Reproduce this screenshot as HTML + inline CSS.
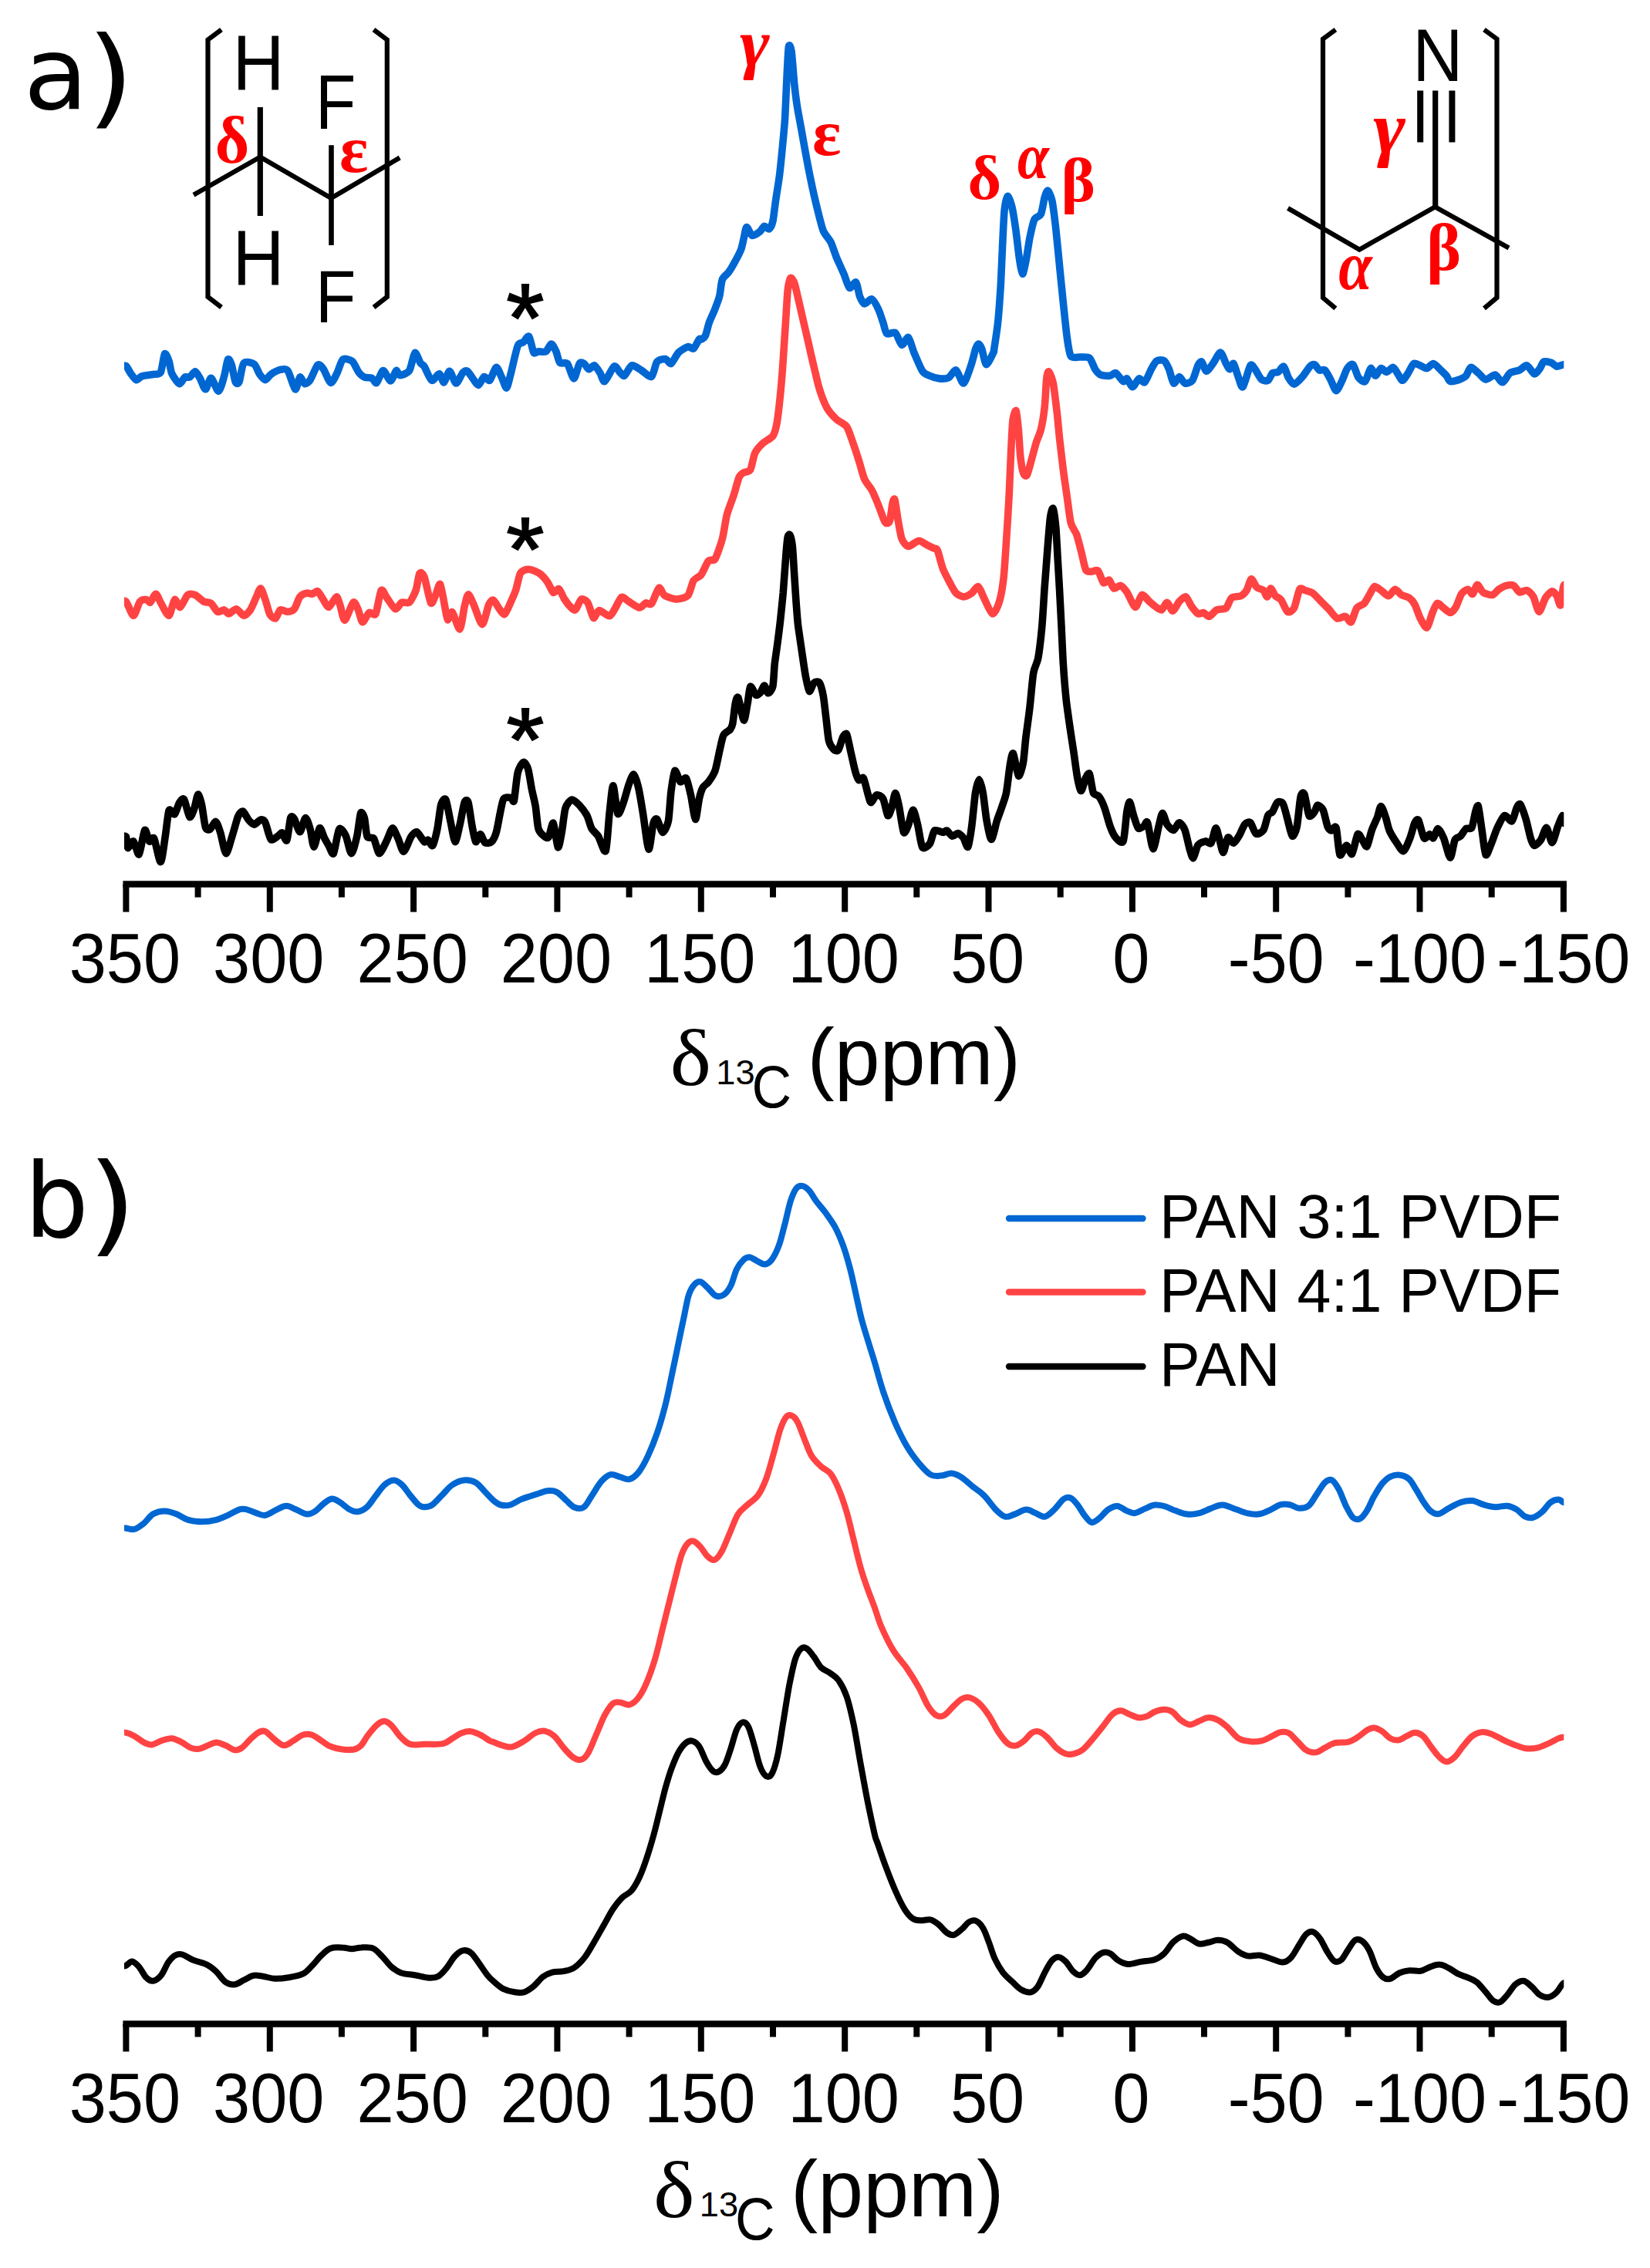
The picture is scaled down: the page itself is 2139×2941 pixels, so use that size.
<!DOCTYPE html>
<html><head><meta charset="utf-8"><title>13C NMR spectra</title>
<style>html,body{margin:0;padding:0;background:#fff}body{width:2139px;height:2941px;overflow:hidden}svg{display:block}
.sans{font-family:"Liberation Sans",Arial,Helvetica,sans-serif}.serif{font-family:"Liberation Serif","Times New Roman",serif}.dj{font-family:"DejaVu Sans",Verdana,sans-serif}.gr{font-family:"Liberation Serif","Times New Roman",serif;font-weight:bold;fill:#ff0000}
</style></head><body>
<svg width="2139" height="2941" viewBox="0 0 2139 2941">
<rect width="2139" height="2941" fill="#fff"/>
<defs><clipPath id="plotclip"><rect x="161" y="0" width="1866.3" height="2941"/></clipPath></defs>
<g clip-path="url(#plotclip)">
<path d="M155.3,1084.8 C156.3,1084.8 162.0,1083.0 163.3,1084.8 C164.6,1086.7 164.5,1098.6 165.8,1099.4 C167.0,1100.2 171.2,1089.8 173.0,1090.9 C174.8,1092.0 178.5,1109.7 180.3,1107.9 C182.1,1106.1 185.9,1078.5 187.6,1076.4 C189.2,1074.2 192.1,1089.5 193.6,1090.9 C195.2,1092.3 197.9,1083.9 199.7,1087.3 C201.5,1090.6 206.4,1117.9 208.2,1117.6 C210.0,1117.3 212.9,1093.2 214.2,1084.8 C215.6,1076.5 217.6,1054.5 219.1,1050.9 C220.6,1047.3 224.7,1057.0 226.4,1055.8 C228.0,1054.5 230.9,1043.6 232.4,1041.2 C233.9,1038.8 236.8,1034.1 238.5,1036.4 C240.2,1038.6 244.1,1057.9 245.8,1059.4 C247.4,1060.9 250.5,1052.1 251.8,1048.5 C253.2,1044.8 255.5,1030.9 256.7,1030.3 C257.9,1029.7 260.3,1038.3 261.5,1043.6 C262.7,1048.9 265.0,1068.8 266.4,1072.7 C267.7,1076.7 270.8,1076.1 272.4,1075.2 C274.1,1074.2 278.0,1064.8 279.7,1065.5 C281.4,1066.1 284.1,1074.8 285.8,1080.0 C287.4,1085.2 291.1,1106.4 293.0,1106.7 C295.0,1107.0 299.5,1088.5 301.5,1082.4 C303.5,1076.4 307.1,1062.0 308.8,1058.2 C310.5,1054.4 313.2,1051.5 314.8,1052.1 C316.5,1052.7 320.3,1060.9 322.1,1063.0 C323.9,1065.2 327.4,1069.1 329.4,1069.1 C331.4,1069.1 336.1,1063.3 337.9,1063.0 C339.7,1062.7 342.3,1063.5 343.9,1066.7 C345.6,1069.8 349.1,1086.4 351.2,1088.5 C353.3,1090.6 359.1,1084.7 360.9,1083.6 C362.7,1082.6 364.4,1079.2 365.8,1080.0 C367.1,1080.8 370.5,1092.1 371.8,1089.7 C373.2,1087.3 375.5,1064.1 376.7,1060.6 C377.9,1057.1 380.0,1059.5 381.5,1061.8 C383.0,1064.1 387.0,1078.9 388.8,1078.8 C390.6,1078.6 394.4,1061.1 396.1,1060.6 C397.7,1060.2 400.8,1070.5 402.1,1075.2 C403.5,1079.8 405.5,1098.3 407.0,1098.2 C408.5,1098.0 412.6,1075.5 414.2,1073.9 C415.9,1072.4 418.8,1083.2 420.3,1086.1 C421.8,1088.9 424.8,1094.4 426.4,1097.0 C427.9,1099.5 430.8,1109.4 432.4,1106.7 C434.1,1103.9 437.7,1078.0 439.7,1075.2 C441.7,1072.3 446.2,1079.7 448.2,1083.6 C450.2,1087.6 453.6,1106.5 455.5,1106.7 C457.3,1106.8 461.2,1091.4 462.7,1084.8 C464.2,1078.3 466.4,1057.6 467.6,1054.5 C468.8,1051.5 471.4,1056.8 472.4,1060.6 C473.5,1064.4 474.5,1081.5 476.1,1084.8 C477.6,1088.2 482.6,1084.5 484.5,1087.3 C486.5,1090.0 489.7,1106.4 491.8,1106.7 C493.9,1107.0 499.4,1093.8 501.5,1089.7 C503.6,1085.6 507.0,1074.2 508.8,1073.9 C510.6,1073.6 514.2,1083.5 516.1,1087.3 C517.9,1091.1 521.2,1104.5 523.3,1104.2 C525.5,1103.9 530.9,1088.0 533.0,1084.8 C535.2,1081.7 538.2,1078.0 540.3,1078.8 C542.4,1079.6 548.2,1090.2 550.0,1091.5 C551.8,1092.8 553.5,1088.5 554.8,1089.1 C556.2,1089.7 559.4,1098.2 560.9,1096.4 C562.4,1094.5 565.6,1081.2 567.0,1074.5 C568.3,1067.9 570.5,1047.7 571.8,1043.0 C573.2,1038.3 576.4,1034.2 577.9,1037.0 C579.4,1039.7 582.4,1058.0 583.9,1064.8 C585.5,1071.7 588.5,1090.9 590.0,1091.5 C591.5,1092.1 594.5,1076.1 596.1,1069.7 C597.6,1063.3 600.8,1044.2 602.1,1040.6 C603.5,1037.0 605.8,1037.0 607.0,1040.6 C608.2,1044.2 610.6,1063.3 611.8,1069.7 C613.0,1076.1 615.3,1090.0 616.7,1091.5 C618.0,1093.0 621.2,1081.7 622.7,1081.8 C624.2,1082.0 627.0,1091.5 628.8,1092.7 C630.6,1093.9 635.5,1093.2 637.3,1091.5 C639.1,1089.8 642.0,1083.9 643.3,1079.4 C644.7,1074.8 647.0,1060.6 648.2,1055.2 C649.4,1049.7 651.2,1038.3 653.0,1035.8 C654.8,1033.2 661.1,1034.2 662.7,1034.5 C664.4,1034.8 665.3,1042.3 666.4,1038.2 C667.4,1034.1 669.7,1008.0 671.2,1001.8 C672.7,995.6 676.8,989.1 678.5,988.5 C680.2,987.9 683.2,992.6 684.5,997.0 C685.9,1001.4 688.2,1017.6 689.4,1023.6 C690.6,1029.7 693.2,1039.1 694.2,1045.5 C695.3,1051.8 696.5,1069.7 697.9,1074.5 C699.2,1079.4 703.5,1082.9 705.2,1084.2 C706.8,1085.6 709.7,1087.6 711.2,1085.5 C712.7,1083.3 715.8,1065.6 717.3,1067.3 C718.8,1068.9 722.0,1097.3 723.3,1098.8 C724.7,1100.3 727.0,1085.8 728.2,1079.4 C729.4,1073.0 731.4,1053.2 733.0,1047.9 C734.7,1042.6 739.2,1037.4 741.5,1037.0 C743.8,1036.5 748.8,1041.7 751.2,1044.2 C753.6,1046.8 758.9,1053.8 760.9,1057.6 C762.9,1061.4 765.2,1071.2 767.0,1074.5 C768.8,1077.9 773.2,1080.6 775.5,1084.2 C777.7,1087.9 783.3,1107.3 785.2,1103.6 C787.0,1100.0 788.8,1065.8 790.0,1055.2 C791.2,1044.5 793.5,1018.8 794.8,1018.8 C796.2,1018.8 799.2,1052.4 800.9,1055.2 C802.6,1057.9 806.4,1045.5 808.2,1040.6 C810.0,1035.8 813.8,1020.9 815.5,1016.4 C817.1,1011.8 820.0,1003.6 821.5,1004.2 C823.0,1004.8 826.1,1014.8 827.6,1021.2 C829.1,1027.6 832.0,1045.2 833.6,1055.2 C835.3,1065.2 839.2,1099.7 840.9,1101.2 C842.6,1102.7 845.6,1072.1 847.0,1067.3 C848.3,1062.4 850.3,1060.9 851.8,1062.4 C853.3,1063.9 857.3,1079.1 859.1,1079.4 C860.9,1079.7 865.0,1071.5 866.4,1064.8 C867.7,1058.2 868.9,1034.2 870.0,1026.1 C871.1,1017.9 873.3,1000.9 874.8,999.4 C876.4,997.9 880.3,1012.7 882.1,1013.9 C883.9,1015.2 887.7,1007.0 889.4,1009.1 C891.1,1011.2 893.9,1024.2 895.5,1030.9 C897.0,1037.6 900.2,1061.8 901.5,1062.4 C902.9,1063.0 905.2,1040.9 906.4,1035.8 C907.6,1030.6 909.7,1023.9 911.2,1021.2 C912.7,1018.5 916.5,1016.7 918.5,1013.9 C920.5,1011.2 925.2,1004.5 927.0,999.4 C928.8,994.2 931.7,978.5 933.0,972.7 C934.4,967.0 936.2,956.7 937.9,953.3 C939.5,950.0 944.9,947.9 946.4,946.1 C947.8,944.2 948.8,943.0 949.7,938.8 C950.6,934.5 952.4,916.4 953.3,912.1 C954.2,907.9 955.6,902.1 957.0,904.8 C958.3,907.6 962.7,933.0 964.2,933.9 C965.8,934.8 968.0,917.6 969.1,912.1 C970.2,906.7 971.4,891.7 972.7,890.3 C974.1,888.9 978.3,900.3 980.0,901.2 C981.7,902.1 984.7,899.1 986.1,897.6 C987.4,896.1 989.7,888.9 990.9,889.1 C992.1,889.2 994.4,898.6 995.8,898.8 C997.1,898.9 1000.8,895.0 1001.8,890.3 C1002.9,885.6 1003.5,868.2 1004.2,861.2 C1005.0,854.2 1007.0,841.5 1007.9,834.5 C1008.8,827.6 1010.6,813.6 1011.5,805.5 C1012.4,797.3 1014.2,779.7 1015.2,769.1 C1016.1,758.5 1018.0,729.7 1018.8,720.6 C1019.5,711.5 1020.5,699.7 1021.2,696.4 C1021.9,693.0 1023.4,692.4 1024.1,693.9 C1024.9,695.5 1026.6,702.1 1027.3,708.5 C1028.0,714.8 1029.1,735.8 1029.7,744.8 C1030.3,753.9 1031.5,773.0 1032.1,781.2 C1032.7,789.4 1033.6,802.4 1034.5,810.3 C1035.5,818.2 1038.2,836.1 1039.4,844.2 C1040.6,852.4 1043.0,869.2 1044.2,875.8 C1045.5,882.3 1047.7,895.2 1049.1,896.4 C1050.5,897.6 1053.5,886.8 1055.2,885.5 C1056.8,884.1 1060.9,883.3 1062.4,885.5 C1063.9,887.6 1066.2,896.7 1067.3,902.4 C1068.3,908.2 1070.0,924.2 1070.9,931.5 C1071.8,938.8 1073.3,955.6 1074.5,960.6 C1075.8,965.6 1079.1,970.0 1080.6,971.5 C1082.1,973.0 1085.2,974.7 1086.7,972.7 C1088.2,970.8 1091.4,958.3 1092.7,955.8 C1094.1,953.2 1096.4,950.0 1097.6,952.1 C1098.8,954.2 1101.1,966.8 1102.4,972.7 C1103.8,978.6 1107.1,994.5 1108.5,999.4 C1109.8,1004.2 1112.0,1010.3 1113.3,1011.5 C1114.7,1012.7 1117.9,1006.7 1119.4,1009.1 C1120.9,1011.5 1124.2,1027.0 1125.5,1030.9 C1126.7,1034.8 1127.7,1040.6 1129.1,1040.6 C1130.5,1040.6 1134.4,1031.5 1136.4,1030.9 C1138.3,1030.3 1143.0,1032.4 1144.8,1035.8 C1146.7,1039.1 1149.5,1056.1 1150.9,1057.6 C1152.3,1059.1 1154.5,1051.5 1155.8,1047.9 C1157.0,1044.2 1159.4,1028.8 1160.6,1028.5 C1161.8,1028.2 1164.1,1039.1 1165.5,1045.5 C1166.8,1051.8 1170.0,1076.4 1171.5,1079.4 C1173.0,1082.4 1176.1,1073.3 1177.6,1069.7 C1179.1,1066.1 1182.1,1050.3 1183.6,1050.3 C1185.2,1050.3 1188.2,1063.6 1189.7,1069.7 C1191.2,1075.8 1193.8,1095.8 1195.8,1098.8 C1197.7,1101.8 1203.5,1096.7 1205.5,1093.9 C1207.4,1091.2 1209.4,1078.8 1211.5,1077.0 C1213.6,1075.2 1220.5,1079.4 1222.4,1079.4 C1224.4,1079.4 1225.8,1076.4 1227.3,1077.0 C1228.8,1077.6 1232.7,1083.8 1234.5,1084.2 C1236.4,1084.7 1240.0,1080.3 1241.8,1080.6 C1243.6,1080.9 1247.5,1084.5 1249.1,1086.7 C1250.7,1088.9 1253.5,1100.1 1254.8,1098.2 C1256.2,1096.3 1258.5,1080.3 1259.7,1071.5 C1260.9,1062.7 1263.3,1035.5 1264.5,1027.9 C1265.8,1020.3 1268.2,1010.9 1269.4,1010.9 C1270.6,1010.9 1273.0,1021.2 1274.2,1027.9 C1275.5,1034.5 1277.7,1056.7 1279.1,1064.2 C1280.5,1071.8 1283.5,1088.5 1285.2,1088.5 C1286.8,1088.5 1290.8,1069.4 1292.4,1064.2 C1294.1,1059.1 1297.0,1051.8 1298.5,1047.3 C1300.0,1042.7 1303.2,1034.8 1304.5,1027.9 C1305.9,1020.9 1308.3,997.9 1309.4,991.5 C1310.5,985.2 1312.2,975.2 1313.5,977.0 C1314.9,978.8 1318.7,1004.5 1320.3,1006.1 C1321.9,1007.6 1325.2,995.5 1326.4,989.1 C1327.6,982.7 1328.9,963.9 1330.0,955.2 C1331.1,946.4 1333.6,929.1 1334.8,918.8 C1336.1,908.5 1338.3,880.9 1339.7,872.7 C1341.1,864.5 1344.4,860.6 1345.8,853.3 C1347.1,846.1 1349.5,826.1 1350.6,814.5 C1351.7,803.0 1353.3,773.9 1354.2,761.2 C1355.2,748.5 1357.0,723.9 1357.9,712.7 C1358.8,701.5 1360.6,678.2 1361.5,671.5 C1362.4,664.8 1364.2,657.9 1365.2,659.4 C1366.1,660.9 1368.0,675.5 1368.8,683.6 C1369.5,691.8 1370.6,714.5 1371.2,724.8 C1371.8,735.2 1373.0,754.8 1373.6,766.1 C1374.2,777.3 1375.5,802.4 1376.1,814.5 C1376.7,826.7 1377.7,851.5 1378.5,863.0 C1379.2,874.5 1381.1,896.7 1382.1,906.7 C1383.2,916.7 1385.8,934.5 1387.0,943.0 C1388.2,951.5 1390.6,966.4 1391.8,974.5 C1393.0,982.7 1395.5,1002.1 1396.7,1008.5 C1397.9,1014.8 1400.2,1025.5 1401.5,1025.5 C1402.9,1025.5 1406.2,1011.2 1407.6,1008.5 C1408.9,1005.8 1411.2,1001.2 1412.4,1003.6 C1413.6,1006.1 1415.8,1024.2 1417.3,1027.9 C1418.8,1031.5 1422.7,1030.3 1424.5,1032.7 C1426.4,1035.2 1430.0,1042.4 1431.8,1047.3 C1433.6,1052.1 1437.3,1066.7 1439.1,1071.5 C1440.9,1076.4 1444.2,1083.6 1446.4,1086.1 C1448.5,1088.5 1454.2,1095.2 1456.1,1090.9 C1457.9,1086.7 1459.8,1058.5 1460.9,1052.1 C1462.0,1045.8 1463.5,1039.4 1464.5,1040.0 C1465.6,1040.6 1468.0,1052.7 1469.4,1057.0 C1470.8,1061.2 1473.8,1072.1 1475.5,1073.9 C1477.1,1075.8 1481.2,1072.4 1482.7,1071.5 C1484.2,1070.6 1486.1,1063.0 1487.6,1066.7 C1489.1,1070.3 1493.0,1100.0 1494.8,1100.6 C1496.7,1101.2 1500.6,1077.3 1502.1,1071.5 C1503.6,1065.8 1505.6,1054.8 1507.0,1054.5 C1508.3,1054.2 1511.2,1066.4 1513.0,1069.1 C1514.8,1071.8 1519.5,1076.7 1521.5,1076.4 C1523.5,1076.1 1527.0,1066.7 1528.8,1066.7 C1530.6,1066.7 1534.4,1072.1 1536.1,1076.4 C1537.7,1080.6 1540.8,1096.1 1542.1,1100.6 C1543.5,1105.2 1545.6,1113.3 1547.0,1112.7 C1548.3,1112.1 1551.1,1098.5 1553.0,1095.8 C1555.0,1093.0 1560.6,1091.2 1562.7,1090.9 C1564.8,1090.6 1568.3,1095.5 1570.0,1093.3 C1571.7,1091.2 1574.7,1074.5 1576.1,1073.9 C1577.4,1073.3 1579.7,1084.5 1580.9,1088.5 C1582.1,1092.4 1584.4,1105.8 1585.8,1105.5 C1587.1,1105.2 1590.2,1087.6 1591.8,1086.1 C1593.5,1084.5 1597.3,1093.6 1599.1,1093.3 C1600.9,1093.0 1604.5,1086.7 1606.4,1083.6 C1608.2,1080.6 1611.8,1071.2 1613.6,1069.1 C1615.5,1067.0 1619.1,1065.2 1620.9,1066.7 C1622.7,1068.2 1626.1,1080.0 1628.2,1081.2 C1630.3,1082.4 1635.9,1079.4 1637.9,1076.4 C1639.8,1073.3 1642.5,1059.9 1643.9,1057.0 C1645.4,1054.0 1648.2,1054.8 1649.7,1052.7 C1651.2,1050.7 1654.1,1042.0 1655.8,1040.6 C1657.4,1039.2 1661.4,1039.1 1663.0,1041.8 C1664.7,1044.5 1667.6,1057.1 1669.1,1062.4 C1670.6,1067.7 1673.6,1083.0 1675.2,1084.2 C1676.7,1085.5 1679.8,1078.5 1681.2,1072.1 C1682.6,1065.8 1684.8,1038.6 1686.1,1033.3 C1687.3,1028.0 1689.5,1026.7 1690.9,1029.7 C1692.3,1032.7 1695.3,1054.7 1697.0,1057.6 C1698.6,1060.5 1702.9,1054.4 1704.2,1052.7 C1705.6,1051.1 1706.5,1044.5 1707.9,1044.2 C1709.2,1043.9 1713.5,1046.8 1715.2,1050.3 C1716.8,1053.8 1719.8,1068.8 1721.2,1072.1 C1722.6,1075.5 1724.7,1076.8 1726.1,1077.0 C1727.4,1077.1 1730.8,1069.4 1732.1,1073.3 C1733.5,1077.3 1735.3,1105.6 1737.0,1108.5 C1738.6,1111.4 1743.5,1096.5 1745.5,1096.4 C1747.4,1096.2 1750.9,1109.1 1752.7,1107.3 C1754.5,1105.5 1758.3,1084.1 1760.0,1081.8 C1761.7,1079.5 1764.5,1087.1 1766.1,1089.1 C1767.6,1091.1 1770.6,1099.1 1772.1,1097.6 C1773.6,1096.1 1776.5,1081.7 1778.2,1077.0 C1779.8,1072.3 1783.9,1063.9 1785.5,1060.0 C1787.0,1056.1 1788.9,1045.5 1790.3,1045.5 C1791.7,1045.5 1795.0,1056.1 1796.4,1060.0 C1797.7,1063.9 1799.5,1073.0 1801.2,1077.0 C1802.9,1080.9 1807.4,1088.2 1809.7,1091.5 C1812.0,1094.8 1817.1,1104.2 1819.4,1103.6 C1821.7,1103.0 1826.1,1091.2 1827.9,1086.7 C1829.7,1082.1 1832.6,1070.2 1833.9,1067.3 C1835.3,1064.4 1837.3,1061.2 1838.8,1063.6 C1840.3,1066.1 1844.2,1084.4 1846.1,1086.7 C1847.9,1088.9 1851.8,1081.8 1853.3,1081.8 C1854.8,1081.8 1856.8,1087.6 1858.2,1086.7 C1859.5,1085.8 1862.6,1074.5 1864.2,1074.5 C1865.9,1074.5 1869.5,1082.0 1871.5,1086.7 C1873.5,1091.4 1878.2,1111.8 1880.0,1112.1 C1881.8,1112.4 1884.4,1092.6 1886.1,1089.1 C1887.7,1085.6 1891.5,1086.1 1893.3,1084.2 C1895.2,1082.4 1898.8,1075.9 1900.6,1074.5 C1902.4,1073.2 1906.4,1076.1 1907.9,1073.3 C1909.4,1070.6 1911.7,1056.2 1912.7,1052.7 C1913.8,1049.2 1915.3,1042.4 1916.4,1045.5 C1917.4,1048.5 1920.0,1069.1 1921.2,1077.0 C1922.4,1084.8 1924.5,1106.4 1926.1,1108.5 C1927.6,1110.6 1931.5,1098.2 1933.3,1093.9 C1935.2,1089.7 1938.5,1079.1 1940.6,1074.5 C1942.7,1070.0 1947.9,1058.8 1950.3,1057.6 C1952.7,1056.4 1958.0,1066.1 1960.0,1064.8 C1962.0,1063.6 1964.7,1050.6 1966.1,1047.9 C1967.4,1045.2 1969.4,1041.2 1970.9,1043.0 C1972.4,1044.8 1976.5,1057.0 1978.2,1062.4 C1979.8,1067.9 1982.9,1082.4 1984.2,1086.7 C1985.6,1090.9 1987.4,1096.1 1989.1,1096.4 C1990.8,1096.7 1995.6,1092.0 1997.6,1089.1 C1999.5,1086.2 2003.0,1072.9 2004.8,1073.3 C2006.7,1073.8 2010.3,1092.9 2012.1,1092.7 C2013.9,1092.6 2017.7,1076.5 2019.4,1072.1 C2021.1,1067.7 2024.5,1058.2 2025.5,1057.6 C2026.4,1057.0 2025.9,1066.1 2027.2,1067.3 C2028.4,1068.5 2034.2,1067.3 2035.2,1067.3" fill="none" stroke="#000" stroke-width="9.6" stroke-linejoin="round" stroke-linecap="butt"/>
<path d="M155.3,780.0 C156.3,780.0 161.1,777.7 163.3,780.0 C165.5,782.3 170.8,798.2 173.0,798.2 C175.3,798.2 179.4,782.6 181.5,780.0 C183.6,777.4 188.3,777.4 190.0,777.6 C191.7,777.7 193.3,782.1 194.8,781.2 C196.4,780.3 200.3,770.0 202.1,770.3 C203.9,770.6 207.3,780.2 209.4,783.6 C211.5,787.1 217.0,798.9 219.1,798.2 C221.2,797.4 224.5,778.9 226.4,777.6 C228.2,776.2 231.5,788.0 233.6,787.3 C235.8,786.5 240.9,773.5 243.3,771.5 C245.8,769.5 250.5,770.5 253.0,771.5 C255.6,772.6 261.4,778.6 263.9,780.0 C266.5,781.4 271.4,780.8 273.6,782.4 C275.9,784.1 280.0,792.3 282.1,793.3 C284.2,794.4 288.8,790.6 290.6,790.9 C292.4,791.2 294.7,795.9 296.7,795.8 C298.6,795.6 303.9,789.4 306.4,789.7 C308.8,790.0 313.8,798.0 316.1,798.2 C318.3,798.3 322.6,793.8 324.5,790.9 C326.5,788.0 330.2,778.6 331.8,775.2 C333.5,771.7 336.4,762.7 337.9,763.0 C339.4,763.3 342.4,773.3 343.9,777.6 C345.5,781.8 348.3,793.9 350.0,797.0 C351.7,800.0 355.6,802.6 357.3,801.8 C358.9,801.1 361.4,792.0 363.3,790.9 C365.3,789.8 370.8,793.5 373.0,793.3 C375.3,793.2 379.5,792.1 381.5,789.7 C383.5,787.3 386.8,776.5 388.8,773.9 C390.8,771.4 395.3,769.5 397.3,769.1 C399.2,768.6 402.7,770.6 404.5,770.3 C406.4,770.0 410.0,765.8 411.8,766.7 C413.6,767.6 417.3,775.0 419.1,777.6 C420.9,780.2 424.2,787.7 426.4,787.3 C428.5,786.8 434.2,774.2 436.1,773.9 C437.9,773.6 439.5,781.1 440.9,784.8 C442.3,788.6 444.8,804.7 447.0,804.2 C449.1,803.8 455.8,783.0 457.9,781.2 C460.0,779.4 462.4,786.5 463.9,789.7 C465.5,792.9 468.2,806.1 470.0,806.7 C471.8,807.3 476.4,795.9 478.5,794.5 C480.6,793.2 485.0,799.4 487.0,795.8 C488.9,792.1 492.4,768.0 494.2,765.5 C496.1,762.9 499.2,772.1 501.5,775.2 C503.8,778.2 510.0,788.9 512.4,789.7 C514.8,790.5 518.6,782.3 520.9,781.2 C523.2,780.2 528.3,783.2 530.6,781.2 C532.9,779.2 537.4,770.2 539.1,765.5 C540.8,760.8 542.6,745.8 543.9,743.6 C545.3,741.4 548.2,743.1 550.0,747.9 C551.8,752.7 556.7,778.8 558.5,781.8 C560.3,784.8 563.0,775.2 564.5,772.1 C566.1,769.1 569.1,755.8 570.6,757.6 C572.1,759.4 575.5,780.9 576.7,786.7 C577.9,792.4 579.1,802.7 580.3,803.6 C581.5,804.5 584.4,792.4 586.4,793.9 C588.3,795.5 594.1,816.7 596.1,815.8 C598.0,814.8 600.8,792.3 602.1,786.7 C603.5,781.1 605.5,771.2 607.0,770.9 C608.5,770.6 612.0,779.4 614.2,784.2 C616.5,789.1 622.7,809.7 625.2,809.7 C627.6,809.7 631.8,788.2 633.6,784.2 C635.5,780.3 638.0,777.6 639.7,778.2 C641.4,778.8 645.2,786.8 647.0,789.1 C648.8,791.4 652.3,797.6 654.2,796.4 C656.2,795.2 660.9,783.3 662.7,779.4 C664.5,775.5 667.3,769.4 668.8,764.8 C670.3,760.3 672.7,746.4 674.8,743.0 C677.0,739.7 682.6,738.0 685.8,738.2 C688.9,738.3 697.3,742.1 700.3,744.2 C703.3,746.4 707.9,752.1 710.0,755.2 C712.1,758.2 715.5,767.4 717.3,768.5 C719.1,769.5 722.7,762.6 724.5,763.6 C726.4,764.7 729.7,773.8 731.8,777.0 C733.9,780.2 739.7,787.4 741.5,789.1 C743.3,790.8 744.8,791.8 746.4,790.3 C747.9,788.8 751.7,778.0 753.6,777.0 C755.6,775.9 760.2,778.8 762.1,781.8 C764.1,784.8 767.6,800.0 769.4,801.2 C771.2,802.4 774.1,791.8 776.7,791.5 C779.2,791.2 787.4,799.1 790.0,798.8 C792.6,798.5 795.3,792.1 797.3,789.1 C799.2,786.1 803.6,775.8 805.8,774.5 C807.9,773.3 811.4,777.7 814.2,779.4 C817.1,781.1 825.9,787.6 828.8,787.9 C831.7,788.2 835.3,782.4 837.3,781.8 C839.2,781.2 842.4,785.5 844.5,783.0 C846.7,780.6 852.1,763.8 854.2,762.4 C856.4,761.1 858.6,770.3 861.5,772.1 C864.4,773.9 873.5,777.0 877.3,777.0 C881.1,777.0 889.1,775.2 891.8,772.1 C894.5,769.1 897.0,756.1 899.1,752.7 C901.2,749.4 906.4,748.6 908.8,745.5 C911.2,742.3 916.2,729.8 918.5,727.3 C920.8,724.7 924.7,728.4 927.0,724.8 C929.2,721.3 934.4,706.0 936.4,698.8 C938.3,691.6 940.6,674.2 942.4,667.3 C944.2,660.3 948.9,649.1 950.9,643.0 C952.9,637.0 956.5,622.6 958.2,618.8 C959.8,615.0 962.4,613.9 964.2,612.7 C966.1,611.5 970.9,612.3 972.7,609.1 C974.5,605.9 976.8,591.5 978.8,587.3 C980.8,583.0 985.6,577.9 988.5,575.2 C991.4,572.4 999.5,568.5 1001.8,565.5 C1004.1,562.4 1005.6,556.1 1006.7,550.9 C1007.7,545.8 1009.4,532.4 1010.3,524.2 C1011.2,516.1 1013.2,494.8 1013.9,485.5 C1014.7,476.1 1015.8,458.2 1016.4,449.1 C1017.0,440.0 1018.2,421.8 1018.8,412.7 C1019.4,403.6 1020.5,382.9 1021.2,376.4 C1022.0,369.8 1023.8,361.8 1024.8,360.6 C1025.9,359.4 1028.5,363.5 1029.7,366.7 C1030.9,369.8 1033.2,380.3 1034.5,386.1 C1035.9,391.8 1038.9,405.5 1040.6,412.7 C1042.3,420.0 1046.1,436.4 1047.9,444.2 C1049.7,452.1 1053.3,468.2 1055.2,475.8 C1057.0,483.3 1060.3,498.2 1062.4,504.8 C1064.5,511.5 1069.4,524.2 1072.1,529.1 C1074.8,533.9 1081.1,540.6 1084.2,543.6 C1087.4,546.7 1094.8,549.4 1097.6,553.3 C1100.3,557.3 1104.1,569.7 1106.1,575.2 C1108.0,580.6 1111.5,591.2 1113.3,597.0 C1115.2,602.7 1118.5,616.4 1120.6,621.2 C1122.7,626.1 1128.0,631.5 1130.3,635.8 C1132.6,640.0 1136.7,650.0 1138.8,655.2 C1140.9,660.3 1145.5,674.4 1147.3,677.0 C1149.1,679.5 1152.1,678.8 1153.3,675.8 C1154.5,672.7 1156.2,656.2 1157.0,652.7 C1157.8,649.2 1159.0,645.2 1159.9,647.9 C1160.8,650.6 1163.1,668.2 1164.2,674.5 C1165.4,680.9 1167.4,694.5 1169.1,698.8 C1170.8,703.0 1174.8,708.2 1177.6,708.5 C1180.3,708.8 1188.0,701.5 1190.9,701.2 C1193.8,700.9 1198.2,704.8 1200.6,706.1 C1203.0,707.3 1208.5,710.0 1210.3,710.9 C1212.1,711.8 1213.6,710.0 1215.2,713.3 C1216.7,716.7 1220.3,732.1 1222.4,737.6 C1224.5,743.0 1230.0,753.0 1232.1,757.0 C1234.2,760.9 1237.3,767.0 1239.4,769.1 C1241.5,771.2 1246.6,773.9 1249.1,773.9 C1251.6,773.9 1257.3,770.8 1259.7,769.1 C1262.1,767.4 1266.2,759.8 1268.2,760.6 C1270.2,761.4 1273.2,770.8 1275.5,775.2 C1277.7,779.5 1283.9,794.8 1286.4,795.8 C1288.8,796.7 1293.0,788.0 1294.8,782.4 C1296.7,776.8 1299.7,760.9 1300.9,750.9 C1302.1,740.9 1303.6,716.1 1304.5,702.4 C1305.5,688.8 1307.4,656.4 1308.2,641.8 C1308.9,627.3 1310.0,598.2 1310.6,586.1 C1311.2,573.9 1312.2,551.5 1313.0,544.8 C1313.8,538.2 1316.2,531.2 1317.2,532.7 C1318.1,534.2 1319.6,549.7 1320.3,557.0 C1321.0,564.2 1322.0,583.9 1322.7,590.9 C1323.5,597.9 1325.3,609.5 1326.4,612.7 C1327.4,615.9 1329.8,618.5 1331.2,616.4 C1332.6,614.2 1335.8,601.1 1337.3,595.8 C1338.8,590.5 1341.8,578.8 1343.3,573.9 C1344.8,569.1 1348.0,562.7 1349.4,557.0 C1350.8,551.2 1353.3,536.1 1354.2,527.9 C1355.2,519.7 1356.0,497.3 1356.7,491.5 C1357.3,485.8 1358.5,481.2 1359.6,481.8 C1360.6,482.4 1363.8,490.0 1365.2,496.4 C1366.5,502.7 1368.9,523.6 1370.0,532.7 C1371.1,541.8 1372.6,559.4 1373.6,569.1 C1374.7,578.8 1377.3,600.9 1378.5,610.3 C1379.7,619.7 1382.1,635.8 1383.3,644.2 C1384.5,652.7 1386.7,672.1 1388.2,678.2 C1389.7,684.2 1393.8,688.2 1395.5,692.7 C1397.1,697.3 1400.0,708.8 1401.5,714.5 C1403.0,720.3 1405.9,735.5 1407.6,738.8 C1409.2,742.1 1412.9,741.1 1414.8,741.2 C1416.8,741.4 1421.4,738.2 1423.3,740.0 C1425.3,741.8 1428.8,754.2 1430.6,755.8 C1432.4,757.3 1436.2,751.2 1437.9,752.1 C1439.5,753.0 1442.1,762.1 1443.9,763.0 C1445.8,763.9 1450.3,758.8 1452.4,759.4 C1454.5,760.0 1458.5,764.4 1460.9,767.9 C1463.3,771.4 1469.4,786.8 1471.8,787.3 C1474.2,787.7 1478.0,772.4 1480.3,771.5 C1482.6,770.6 1487.9,778.2 1490.0,780.0 C1492.1,781.8 1495.3,784.7 1497.3,786.1 C1499.2,787.4 1503.8,791.5 1505.8,790.9 C1507.7,790.3 1511.2,781.1 1513.0,781.2 C1514.8,781.4 1518.3,792.3 1520.3,792.1 C1522.3,792.0 1526.7,782.3 1528.8,780.0 C1530.9,777.7 1535.3,773.2 1537.3,773.9 C1539.2,774.7 1542.6,783.3 1544.5,786.1 C1546.5,788.8 1551.1,794.7 1553.0,795.8 C1555.0,796.8 1558.5,794.1 1560.3,794.5 C1562.1,795.0 1565.5,799.8 1567.6,799.4 C1569.7,798.9 1574.5,792.3 1577.3,790.9 C1580.0,789.5 1587.0,790.5 1589.4,788.5 C1591.8,786.5 1594.2,777.1 1596.7,775.2 C1599.1,773.2 1606.4,773.9 1608.8,772.7 C1611.2,771.5 1614.4,768.2 1616.1,765.5 C1617.7,762.7 1620.5,751.4 1622.1,750.9 C1623.8,750.5 1627.4,760.0 1629.4,761.8 C1631.4,763.6 1636.2,763.9 1637.9,765.5 C1639.5,767.0 1641.6,774.2 1642.7,773.9 C1643.9,773.6 1645.9,763.2 1647.3,763.0 C1648.6,762.9 1651.7,770.9 1653.3,772.7 C1655.0,774.5 1658.6,775.0 1660.6,777.6 C1662.6,780.2 1667.0,792.0 1669.1,793.3 C1671.2,794.7 1675.6,792.1 1677.6,788.5 C1679.5,784.8 1683.0,767.1 1684.8,764.2 C1686.7,761.4 1690.0,764.8 1692.1,765.5 C1694.2,766.1 1699.2,767.3 1701.8,769.1 C1704.4,770.9 1710.2,777.4 1712.7,780.0 C1715.3,782.6 1719.8,787.0 1722.4,789.7 C1725.0,792.4 1730.6,800.6 1733.3,801.8 C1736.1,803.0 1742.0,798.8 1744.2,799.4 C1746.5,800.0 1749.7,808.0 1751.5,806.7 C1753.3,805.3 1756.7,791.5 1758.8,788.5 C1760.9,785.5 1766.4,784.7 1768.5,782.4 C1770.6,780.2 1774.1,773.0 1775.8,770.3 C1777.4,767.6 1780.0,761.2 1781.8,760.6 C1783.6,760.0 1788.0,763.9 1790.3,765.5 C1792.6,767.0 1797.7,772.9 1800.0,772.7 C1802.3,772.6 1806.4,764.4 1808.5,764.2 C1810.6,764.1 1814.7,770.2 1817.0,771.5 C1819.2,772.9 1824.5,773.6 1826.7,775.2 C1828.8,776.7 1832.1,780.3 1833.9,783.6 C1835.8,787.0 1839.2,798.0 1841.2,801.8 C1843.2,805.6 1847.7,814.8 1849.7,813.9 C1851.7,813.0 1855.3,798.5 1857.0,794.5 C1858.6,790.6 1861.4,783.3 1863.0,782.4 C1864.7,781.5 1868.2,785.8 1870.3,787.3 C1872.4,788.8 1877.9,794.5 1880.0,794.5 C1882.1,794.5 1885.5,790.3 1887.3,787.3 C1889.1,784.2 1892.6,773.2 1894.5,770.3 C1896.5,767.4 1901.2,764.2 1903.0,764.2 C1904.8,764.2 1907.6,771.1 1909.1,770.3 C1910.6,769.5 1913.5,758.5 1915.2,758.2 C1916.8,757.9 1920.0,766.2 1922.4,767.9 C1924.8,769.5 1932.0,772.0 1934.5,771.5 C1937.1,771.1 1940.8,765.8 1943.0,764.2 C1945.3,762.7 1950.3,760.0 1952.7,759.4 C1955.2,758.8 1960.3,758.3 1962.4,759.4 C1964.5,760.5 1967.6,767.1 1969.7,767.9 C1971.8,768.6 1977.1,764.7 1979.4,765.5 C1981.7,766.2 1985.9,770.5 1987.9,773.9 C1989.8,777.4 1993.2,793.2 1995.2,793.3 C1997.1,793.5 2001.5,778.5 2003.6,775.2 C2005.8,771.8 2010.3,767.0 2012.1,766.7 C2013.9,766.4 2016.8,770.5 2018.2,772.7 C2019.5,775.0 2021.9,786.5 2023.0,784.8 C2024.2,783.2 2025.6,762.6 2027.2,759.4 C2028.7,756.2 2034.2,759.4 2035.2,759.4" fill="none" stroke="#ff4343" stroke-width="9.6" stroke-linejoin="round" stroke-linecap="butt"/>
<path d="M155.3,474.5 C156.3,474.5 161.6,473.3 163.3,474.5 C165.1,475.8 167.7,482.0 169.4,484.2 C171.1,486.5 174.8,492.3 176.7,492.7 C178.5,493.2 181.2,488.8 183.9,487.9 C186.7,487.0 195.5,486.1 198.5,485.5 C201.5,484.8 206.3,486.4 208.2,483.0 C210.1,479.7 212.2,460.6 213.5,458.8 C214.9,457.0 217.9,465.3 219.1,468.5 C220.2,471.7 221.1,480.6 222.7,484.2 C224.4,487.9 230.3,497.0 232.4,497.6 C234.5,498.2 238.0,490.2 239.7,489.1 C241.4,488.0 244.1,490.0 245.8,489.1 C247.4,488.2 251.4,481.7 253.0,481.8 C254.7,482.0 257.4,487.4 259.1,490.3 C260.8,493.2 264.5,504.8 266.4,504.8 C268.2,504.8 271.5,490.0 273.6,490.3 C275.8,490.6 281.2,507.6 283.3,507.3 C285.5,507.0 289.1,493.0 290.6,487.9 C292.1,482.7 294.2,467.9 295.5,466.1 C296.7,464.2 299.1,469.7 300.3,473.3 C301.5,477.0 303.9,492.4 305.2,495.2 C306.4,497.9 308.6,498.2 310.0,495.2 C311.4,492.1 313.6,473.8 316.1,470.9 C318.5,468.0 326.8,470.3 329.4,472.1 C332.0,473.9 334.8,482.9 336.7,485.5 C338.5,488.0 342.1,492.7 343.9,492.7 C345.8,492.7 348.8,487.1 351.2,485.5 C353.6,483.8 360.6,480.0 363.3,479.4 C366.1,478.8 370.6,477.4 373.0,480.6 C375.5,483.8 380.8,503.8 382.7,504.8 C384.7,505.9 387.3,490.0 388.8,489.1 C390.3,488.2 393.2,497.1 394.8,497.6 C396.5,498.0 400.0,495.8 402.1,492.7 C404.2,489.7 409.7,475.2 411.8,473.3 C413.9,471.5 417.0,475.3 419.1,478.2 C421.2,481.1 426.5,495.8 428.8,496.4 C431.1,497.0 435.3,486.8 437.3,483.0 C439.2,479.2 442.1,467.9 444.5,466.1 C447.0,464.2 454.1,466.4 456.7,468.5 C459.2,470.6 463.2,480.5 465.2,483.0 C467.1,485.6 470.3,488.2 472.4,489.1 C474.5,490.0 480.2,489.4 482.1,490.3 C484.1,491.2 486.4,497.6 488.2,496.4 C490.0,495.2 494.4,480.9 496.7,480.6 C498.9,480.3 504.2,493.9 506.4,493.9 C508.5,493.9 512.1,481.5 513.6,480.6 C515.2,479.7 516.4,486.7 518.5,486.7 C520.6,486.7 528.2,484.2 530.6,480.6 C533.0,477.0 536.1,458.8 537.9,457.6 C539.7,456.4 543.6,468.7 545.2,470.9 C546.7,473.1 548.2,472.3 550.0,475.2 C551.8,478.0 557.3,492.1 559.7,493.3 C562.1,494.5 567.4,484.5 569.4,484.8 C571.4,485.2 573.8,496.2 575.5,495.8 C577.1,495.3 580.8,481.1 582.7,481.2 C584.7,481.4 589.1,496.7 591.2,497.0 C593.3,497.3 597.9,485.6 599.7,483.6 C601.5,481.7 604.1,480.3 605.8,481.2 C607.4,482.1 611.2,488.6 613.0,490.9 C614.8,493.2 618.5,499.7 620.3,499.4 C622.1,499.1 625.8,489.2 627.6,488.5 C629.4,487.7 632.9,494.8 634.8,493.3 C636.8,491.8 641.4,476.8 643.3,476.4 C645.3,475.9 648.9,486.4 650.6,489.7 C652.3,493.0 655.2,503.9 656.7,503.0 C658.2,502.1 660.9,489.2 662.7,482.4 C664.5,475.6 669.2,453.3 671.2,448.5 C673.2,443.6 676.7,445.2 678.5,443.6 C680.3,442.1 684.1,434.7 685.8,436.4 C687.4,438.0 690.3,454.5 691.8,457.0 C693.3,459.4 695.9,455.9 697.9,455.8 C699.8,455.6 705.5,457.0 707.6,455.8 C709.7,454.5 713.2,446.1 714.8,446.1 C716.5,446.1 719.5,452.7 720.9,455.8 C722.3,458.8 723.9,468.3 725.8,470.3 C727.6,472.3 733.2,468.9 735.5,471.5 C737.7,474.1 742.0,490.9 743.9,490.9 C745.9,490.9 749.5,473.9 751.2,471.5 C752.9,469.1 755.8,470.6 757.3,471.5 C758.8,472.4 761.7,478.5 763.3,478.8 C765.0,479.1 768.8,473.3 770.6,473.9 C772.4,474.5 776.2,481.1 777.9,483.6 C779.5,486.2 781.7,495.6 783.9,494.5 C786.2,493.5 793.6,476.7 796.1,475.2 C798.5,473.6 801.7,480.9 803.3,482.4 C805.0,483.9 807.4,488.3 809.4,487.3 C811.4,486.2 816.4,474.8 819.1,473.9 C821.8,473.0 828.0,478.2 831.2,480.0 C834.4,481.8 842.0,489.8 844.5,488.5 C847.1,487.1 849.5,472.0 851.8,469.1 C854.1,466.2 860.5,465.2 862.7,465.5 C865.0,465.8 867.9,472.6 870.0,471.5 C872.1,470.5 877.0,459.7 879.7,457.0 C882.4,454.2 889.4,450.3 891.8,449.7 C894.2,449.1 897.3,453.3 899.1,452.1 C900.9,450.9 905.0,441.5 906.4,440.0 C907.7,438.5 908.7,440.6 909.7,440.0 C910.7,439.4 913.3,437.9 914.5,435.2 C915.8,432.4 917.9,422.4 919.4,418.2 C920.9,413.9 925.0,405.5 926.7,401.2 C928.3,397.0 931.5,389.1 932.7,384.2 C933.9,379.4 934.8,366.4 936.4,362.4 C937.9,358.5 942.9,355.5 944.8,352.7 C946.8,350.0 950.2,344.2 952.1,340.6 C954.1,337.0 959.1,327.6 960.6,323.6 C962.1,319.7 963.3,312.7 964.2,309.1 C965.2,305.5 966.5,295.0 967.9,294.5 C969.2,294.1 973.0,304.7 975.2,305.5 C977.3,306.2 982.9,302.1 984.8,300.6 C986.8,299.1 989.4,293.8 990.9,293.3 C992.4,292.9 995.6,297.7 997.0,297.0 C998.3,296.2 1000.8,291.8 1001.8,287.3 C1002.9,282.7 1004.4,267.9 1005.5,260.6 C1006.5,253.3 1009.2,237.3 1010.3,229.1 C1011.4,220.9 1013.0,204.5 1013.9,195.2 C1014.8,185.8 1016.8,165.8 1017.6,153.9 C1018.3,142.1 1019.4,112.3 1020.0,100.6 C1020.6,88.9 1021.7,64.8 1022.4,60.6 C1023.2,56.4 1025.2,60.8 1026.1,66.7 C1027.0,72.6 1028.8,99.1 1029.7,107.9 C1030.6,116.7 1032.1,129.1 1033.3,137.0 C1034.5,144.8 1037.9,162.4 1039.4,170.9 C1040.9,179.4 1043.8,196.1 1045.5,204.8 C1047.1,213.6 1050.9,232.7 1052.7,241.2 C1054.5,249.7 1058.2,265.5 1060.0,272.7 C1061.8,280.0 1065.2,294.2 1067.3,299.4 C1069.4,304.5 1074.8,309.7 1077.0,313.9 C1079.1,318.2 1082.1,328.2 1084.2,333.3 C1086.4,338.5 1091.8,350.2 1093.9,355.2 C1096.1,360.2 1099.2,372.0 1101.2,373.3 C1103.2,374.7 1108.0,364.7 1109.7,366.1 C1111.4,367.4 1113.2,380.8 1114.5,384.2 C1115.9,387.7 1118.6,393.5 1120.6,393.9 C1122.6,394.4 1128.0,387.0 1130.3,387.9 C1132.6,388.8 1137.0,397.4 1138.8,401.2 C1140.6,405.0 1143.5,414.2 1144.8,418.2 C1146.2,422.1 1147.7,431.1 1149.7,432.7 C1151.7,434.4 1158.2,429.7 1160.6,431.5 C1163.0,433.3 1167.0,446.5 1169.1,447.3 C1171.2,448.0 1175.6,436.4 1177.6,437.6 C1179.5,438.8 1182.6,451.5 1184.8,457.0 C1187.1,462.4 1193.2,477.4 1195.8,481.2 C1198.3,485.0 1202.7,486.1 1205.5,487.3 C1208.2,488.5 1214.5,490.6 1217.6,490.9 C1220.6,491.2 1227.0,491.1 1229.7,489.7 C1232.4,488.3 1237.0,479.1 1239.4,480.0 C1241.8,480.9 1246.7,497.7 1249.1,497.0 C1251.5,496.2 1256.8,479.5 1258.8,473.9 C1260.8,468.3 1263.6,455.6 1264.8,452.1 C1266.1,448.6 1267.5,446.1 1268.5,446.1 C1269.5,446.1 1271.3,448.8 1272.6,452.1 C1273.9,455.5 1276.8,472.1 1278.7,472.7 C1280.6,473.3 1286.6,459.5 1287.9,457.0 C1289.1,454.4 1288.1,457.0 1288.8,452.1 C1289.5,447.3 1292.6,428.5 1293.6,418.2 C1294.7,407.9 1296.5,382.4 1297.3,369.7 C1298.0,357.0 1299.1,328.5 1299.7,316.4 C1300.3,304.2 1301.3,280.5 1302.1,272.7 C1302.9,265.0 1305.0,255.2 1306.2,254.5 C1307.5,253.9 1310.5,262.6 1311.8,267.9 C1313.1,273.2 1315.5,288.5 1316.7,297.0 C1317.9,305.5 1320.4,328.5 1321.5,335.8 C1322.6,343.0 1324.6,354.8 1325.6,355.2 C1326.7,355.5 1328.8,343.9 1330.0,338.2 C1331.2,332.4 1333.5,315.8 1334.8,309.1 C1336.2,302.4 1339.1,288.8 1340.9,284.8 C1342.7,280.9 1347.7,281.2 1349.4,277.6 C1351.1,273.9 1353.1,259.5 1354.2,255.8 C1355.4,252.0 1357.2,246.7 1358.4,247.3 C1359.6,247.9 1362.6,254.4 1363.9,260.6 C1365.2,266.8 1367.6,286.4 1368.8,297.0 C1370.0,307.6 1372.4,333.3 1373.6,345.5 C1374.8,357.6 1377.3,382.4 1378.5,393.9 C1379.7,405.5 1382.1,429.1 1383.3,437.6 C1384.5,446.1 1386.1,458.6 1388.2,461.8 C1390.3,465.0 1397.3,462.7 1400.3,463.0 C1403.3,463.3 1410.0,462.3 1412.4,464.2 C1414.8,466.2 1417.9,476.1 1419.7,478.8 C1421.5,481.5 1424.5,485.0 1427.0,486.1 C1429.4,487.1 1436.7,487.6 1439.1,487.3 C1441.5,487.0 1444.2,482.7 1446.4,483.6 C1448.5,484.5 1454.2,493.6 1456.1,494.5 C1457.9,495.5 1459.4,490.0 1460.9,490.9 C1462.4,491.8 1466.2,501.8 1468.2,501.8 C1470.2,501.8 1474.7,491.7 1476.7,490.9 C1478.6,490.2 1482.0,497.3 1483.9,495.8 C1485.9,494.2 1490.5,482.3 1492.4,478.8 C1494.4,475.3 1497.6,469.2 1499.7,467.9 C1501.8,466.5 1507.4,466.5 1509.4,467.9 C1511.4,469.2 1513.9,475.2 1515.5,478.8 C1517.0,482.4 1519.8,495.8 1521.5,497.0 C1523.2,498.2 1527.0,488.5 1528.8,488.5 C1530.6,488.5 1533.9,496.4 1536.1,497.0 C1538.2,497.6 1543.6,496.2 1545.8,493.3 C1547.9,490.5 1551.5,477.0 1553.0,473.9 C1554.5,470.9 1556.5,468.2 1557.9,469.1 C1559.2,470.0 1562.1,480.9 1563.9,481.2 C1565.8,481.5 1570.2,474.5 1572.4,471.5 C1574.7,468.5 1580.0,457.0 1582.1,457.0 C1584.2,457.0 1587.9,468.8 1589.4,471.5 C1590.9,474.2 1593.0,478.8 1594.2,478.8 C1595.5,478.8 1597.7,470.3 1599.1,471.5 C1600.5,472.7 1603.6,484.7 1605.2,488.5 C1606.7,492.3 1609.2,503.6 1611.2,501.8 C1613.2,500.0 1618.9,476.8 1620.9,473.9 C1622.9,471.1 1625.2,476.5 1627.0,478.8 C1628.8,481.1 1633.3,490.3 1635.5,492.1 C1637.6,493.9 1642.2,494.4 1643.9,493.3 C1645.7,492.3 1648.1,485.0 1649.7,483.6 C1651.3,482.3 1655.2,483.5 1657.0,482.4 C1658.8,481.4 1662.6,474.2 1664.2,475.2 C1665.9,476.1 1668.6,486.8 1670.3,489.7 C1672.0,492.6 1675.3,498.3 1677.6,498.2 C1679.8,498.0 1685.9,491.4 1688.5,488.5 C1691.1,485.6 1696.2,477.1 1698.2,475.2 C1700.2,473.2 1702.7,472.1 1704.2,472.7 C1705.8,473.3 1708.6,479.1 1710.3,480.0 C1712.0,480.9 1715.8,478.5 1717.6,480.0 C1719.4,481.5 1723.0,488.8 1724.8,492.1 C1726.7,495.5 1730.3,506.4 1732.1,506.7 C1733.9,507.0 1737.6,498.2 1739.4,494.5 C1741.2,490.9 1744.8,480.3 1746.7,477.6 C1748.5,474.8 1752.1,471.2 1753.9,472.7 C1755.8,474.2 1759.2,487.0 1761.2,489.7 C1763.2,492.4 1767.7,496.1 1769.7,494.5 C1771.7,493.0 1775.3,478.5 1777.0,477.6 C1778.6,476.7 1781.4,487.3 1783.0,487.3 C1784.7,487.3 1788.5,478.2 1790.3,477.6 C1792.1,477.0 1795.6,482.6 1797.6,482.4 C1799.5,482.3 1804.2,476.1 1806.1,476.4 C1807.9,476.7 1810.6,482.7 1812.1,484.8 C1813.6,487.0 1816.5,493.5 1818.2,493.3 C1819.8,493.2 1823.6,486.4 1825.5,483.6 C1827.3,480.9 1830.8,472.7 1832.7,471.5 C1834.7,470.3 1839.1,473.2 1841.2,473.9 C1843.3,474.7 1847.6,477.9 1849.7,477.6 C1851.8,477.3 1855.9,471.2 1858.2,471.5 C1860.5,471.8 1865.8,478.0 1867.9,480.0 C1870.0,482.0 1873.6,485.5 1875.2,487.3 C1876.7,489.1 1877.9,493.9 1880.0,494.5 C1882.1,495.2 1889.5,493.0 1892.1,492.1 C1894.7,491.2 1898.8,489.2 1900.6,487.3 C1902.4,485.3 1904.7,476.8 1906.7,476.4 C1908.6,475.9 1913.9,481.7 1916.4,483.6 C1918.8,485.6 1923.3,491.8 1926.1,492.1 C1928.8,492.4 1935.5,485.6 1938.2,486.1 C1940.9,486.5 1945.5,496.1 1947.9,495.8 C1950.3,495.5 1954.8,485.6 1957.6,483.6 C1960.3,481.7 1967.0,481.2 1969.7,480.0 C1972.4,478.8 1977.0,473.3 1979.4,473.9 C1981.8,474.5 1987.0,484.4 1989.1,484.8 C1991.2,485.3 1994.8,479.5 1996.4,477.6 C1997.9,475.6 1999.4,470.0 2001.2,469.1 C2003.0,468.2 2008.8,469.5 2010.9,470.3 C2013.0,471.1 2016.2,474.8 2018.2,475.2 C2020.2,475.5 2025.0,473.0 2027.2,472.7 C2029.3,472.4 2034.2,472.7 2035.2,472.7" fill="none" stroke="#0067d2" stroke-width="9.6" stroke-linejoin="round" stroke-linecap="butt"/>
<path d="M154.7,2549.1 C156.1,2549.1 160.0,2550.0 162.7,2549.1 C165.5,2548.2 168.3,2543.4 171.2,2543.6 C174.1,2543.9 177.3,2547.2 180.3,2550.6 C183.3,2554.0 186.4,2561.2 189.4,2564.2 C192.4,2567.3 195.2,2569.3 198.5,2568.8 C201.8,2568.3 205.8,2565.3 209.1,2561.2 C212.4,2557.2 215.2,2548.8 218.2,2544.5 C221.2,2540.3 224.2,2537.1 227.3,2535.5 C230.3,2533.8 232.6,2533.5 236.4,2534.5 C240.2,2535.6 244.7,2539.3 250.0,2541.5 C255.3,2543.7 263.1,2545.1 268.2,2547.6 C273.2,2550.1 276.3,2552.9 280.3,2556.7 C284.3,2560.5 288.4,2567.5 292.4,2570.3 C296.5,2573.1 300.5,2573.8 304.5,2573.3 C308.6,2572.8 312.6,2569.2 316.7,2567.3 C320.7,2565.4 324.7,2562.6 328.8,2561.8 C332.8,2561.1 336.4,2562.1 340.9,2562.7 C345.5,2563.4 350.5,2565.5 356.1,2565.8 C361.6,2566.0 368.2,2565.3 374.2,2564.2 C380.3,2563.2 387.4,2562.2 392.4,2559.7 C397.5,2557.2 400.5,2553.1 404.5,2549.1 C408.6,2545.1 412.6,2539.2 416.7,2535.5 C420.7,2531.7 424.2,2528.0 428.8,2526.4 C433.3,2524.7 439.4,2525.3 443.9,2525.5 C448.5,2525.6 452.0,2527.3 456.1,2527.3 C460.1,2527.3 463.6,2525.6 468.2,2525.5 C472.7,2525.3 478.8,2524.4 483.3,2526.4 C487.9,2528.3 491.4,2532.9 495.5,2537.0 C499.5,2541.0 503.5,2547.1 507.6,2550.6 C511.6,2554.1 514.6,2556.4 519.7,2558.2 C524.7,2559.9 531.8,2560.1 537.9,2561.2 C543.9,2562.3 551.0,2564.6 556.1,2564.8 C561.1,2565.1 564.4,2564.8 568.2,2562.7 C572.0,2560.6 575.3,2556.4 578.8,2552.1 C582.3,2547.8 585.9,2540.8 589.4,2537.0 C592.9,2533.2 596.5,2530.2 600.0,2529.4 C603.5,2528.6 607.1,2529.6 610.6,2532.4 C614.1,2535.2 617.7,2541.3 621.2,2546.1 C624.7,2550.9 628.5,2557.2 631.8,2561.2 C635.1,2565.3 637.5,2567.4 640.9,2570.3 C644.3,2573.2 647.7,2576.6 652.1,2578.8 C656.5,2581.0 662.7,2582.6 667.3,2583.3 C671.8,2584.1 675.4,2584.6 679.4,2583.3 C683.4,2582.1 687.5,2579.0 691.5,2575.8 C695.6,2572.5 699.6,2566.7 703.6,2563.6 C707.7,2560.6 711.2,2558.8 715.8,2557.6 C720.3,2556.3 726.1,2557.1 730.9,2556.1 C735.7,2555.1 740.0,2554.5 744.5,2551.5 C749.1,2548.5 753.9,2543.4 758.2,2537.9 C762.5,2532.3 766.3,2525.0 770.3,2518.2 C774.3,2511.4 778.4,2504.0 782.4,2497.0 C786.5,2489.9 790.5,2481.8 794.5,2475.8 C798.6,2469.7 802.6,2464.6 806.7,2460.6 C810.7,2456.6 815.0,2456.1 818.8,2451.5 C822.6,2447.0 826.1,2440.4 829.4,2433.3 C832.7,2426.3 835.5,2418.2 838.5,2409.1 C841.5,2400.0 844.8,2388.9 847.6,2378.8 C850.4,2368.7 852.6,2358.6 855.2,2348.5 C857.7,2338.4 860.2,2327.3 862.7,2318.2 C865.3,2309.1 867.5,2301.5 870.3,2293.9 C873.1,2286.4 876.4,2278.3 879.4,2272.7 C882.4,2267.2 885.5,2263.1 888.5,2260.6 C891.5,2258.1 894.5,2256.8 897.6,2257.6 C900.6,2258.3 903.6,2260.6 906.7,2265.2 C909.7,2269.7 912.7,2279.5 915.8,2284.8 C918.8,2290.2 922.1,2294.9 924.8,2297.0 C927.6,2299.0 929.9,2298.5 932.4,2297.0 C934.9,2295.5 937.5,2292.9 940.0,2287.9 C942.5,2282.8 945.1,2274.2 947.6,2266.7 C950.1,2259.1 952.6,2248.0 955.2,2242.4 C957.7,2236.9 960.2,2233.8 962.7,2233.3 C965.3,2232.8 967.8,2234.3 970.3,2239.4 C972.8,2244.4 975.4,2255.1 977.9,2263.6 C980.4,2272.2 982.9,2284.3 985.5,2290.9 C988.0,2297.5 990.5,2301.5 993.0,2303.0 C995.6,2304.5 998.1,2304.5 1000.6,2300.0 C1003.1,2295.5 1005.7,2287.4 1008.2,2275.8 C1010.7,2264.1 1013.2,2245.5 1015.8,2230.3 C1018.3,2215.2 1020.8,2198.0 1023.3,2184.8 C1025.9,2171.7 1028.4,2159.3 1030.9,2151.5 C1033.4,2143.7 1036.0,2140.2 1038.5,2137.9 C1041.0,2135.6 1043.3,2136.1 1046.1,2137.9 C1048.8,2139.6 1052.1,2144.4 1055.2,2148.5 C1058.2,2152.5 1060.7,2158.6 1064.2,2162.1 C1067.8,2165.7 1072.6,2166.9 1076.4,2169.7 C1080.2,2172.5 1083.4,2173.7 1087.0,2178.8 C1090.5,2183.8 1094.3,2190.4 1097.6,2200.0 C1100.9,2209.6 1103.6,2221.7 1106.7,2236.4 C1109.7,2251.0 1112.7,2271.2 1115.8,2287.9 C1118.8,2304.5 1121.8,2321.2 1124.8,2336.4 C1127.9,2351.5 1131.8,2369.7 1133.9,2378.8 C1136.1,2387.9 1135.5,2383.8 1137.9,2390.9 C1140.3,2398.0 1144.7,2411.1 1148.5,2421.2 C1152.3,2431.3 1156.6,2442.4 1160.6,2451.5 C1164.6,2460.6 1168.9,2469.7 1172.7,2475.8 C1176.5,2481.8 1179.8,2485.5 1183.3,2487.9 C1186.9,2490.3 1190.2,2490.1 1193.9,2490.3 C1197.7,2490.6 1202.3,2488.5 1206.1,2489.4 C1209.8,2490.3 1213.1,2492.7 1216.7,2495.5 C1220.2,2498.2 1224.0,2503.8 1227.3,2506.1 C1230.6,2508.3 1233.1,2509.8 1236.4,2509.1 C1239.6,2508.3 1243.7,2504.3 1247.0,2501.5 C1250.3,2498.7 1253.0,2494.2 1256.1,2492.4 C1259.1,2490.7 1262.1,2489.6 1265.2,2490.9 C1268.2,2492.2 1271.5,2495.5 1274.2,2500.0 C1277.0,2504.5 1279.3,2511.6 1281.8,2518.2 C1284.3,2524.7 1286.4,2532.8 1289.4,2539.4 C1292.4,2546.0 1296.2,2552.5 1300.0,2557.6 C1303.8,2562.6 1308.1,2565.9 1312.1,2569.7 C1316.2,2573.5 1320.2,2578.0 1324.2,2580.3 C1328.3,2582.6 1332.8,2584.1 1336.4,2583.3 C1339.9,2582.6 1342.4,2580.1 1345.5,2575.8 C1348.5,2571.5 1351.5,2563.1 1354.5,2557.6 C1357.6,2552.0 1360.6,2545.7 1363.6,2542.4 C1366.7,2539.1 1369.7,2537.6 1372.7,2537.9 C1375.8,2538.1 1378.8,2540.9 1381.8,2543.9 C1384.8,2547.0 1387.9,2553.2 1390.9,2556.1 C1393.9,2558.9 1397.0,2561.5 1400.0,2561.2 C1403.0,2561.0 1405.8,2558.2 1409.1,2554.5 C1412.4,2550.9 1416.2,2543.2 1419.7,2539.4 C1423.2,2535.6 1427.0,2532.8 1430.3,2531.8 C1433.6,2530.8 1436.1,2531.6 1439.4,2533.3 C1442.7,2535.1 1446.2,2540.2 1450.0,2542.4 C1453.8,2544.7 1457.3,2546.7 1462.1,2547.0 C1466.9,2547.2 1473.0,2544.9 1478.8,2543.9 C1484.6,2542.9 1491.9,2542.7 1497.0,2540.9 C1502.0,2539.1 1505.1,2537.1 1509.1,2533.3 C1513.1,2529.5 1517.2,2522.0 1521.2,2518.2 C1525.3,2514.4 1529.8,2511.4 1533.3,2510.6 C1536.9,2509.8 1538.9,2512.0 1542.4,2513.6 C1546.0,2515.3 1550.5,2519.7 1554.5,2520.6 C1558.6,2521.5 1562.6,2519.6 1566.7,2518.8 C1570.7,2518.0 1574.7,2515.8 1578.8,2515.8 C1582.8,2515.8 1586.5,2516.3 1590.9,2518.8 C1595.4,2521.3 1601.0,2528.0 1605.5,2530.9 C1609.9,2533.8 1613.0,2535.6 1617.6,2536.4 C1622.1,2537.1 1627.7,2534.8 1632.7,2535.5 C1637.8,2536.1 1642.8,2538.5 1647.9,2540.0 C1652.9,2541.5 1658.7,2544.8 1663.0,2544.5 C1667.3,2544.3 1670.1,2542.3 1673.6,2538.5 C1677.2,2534.7 1681.0,2526.9 1684.2,2521.8 C1687.5,2516.8 1690.3,2511.0 1693.3,2508.2 C1696.4,2505.4 1699.4,2504.1 1702.4,2505.2 C1705.5,2506.2 1708.5,2509.9 1711.5,2514.2 C1714.5,2518.5 1717.6,2526.1 1720.6,2530.9 C1723.6,2535.7 1726.7,2541.3 1729.7,2543.0 C1732.7,2544.8 1735.8,2544.0 1738.8,2541.5 C1741.8,2539.0 1744.8,2532.2 1747.9,2527.9 C1750.9,2523.6 1753.9,2517.5 1757.0,2515.8 C1760.0,2514.0 1763.0,2515.0 1766.1,2517.3 C1769.1,2519.5 1772.1,2523.6 1775.2,2529.4 C1778.2,2535.2 1781.2,2546.3 1784.2,2552.1 C1787.3,2557.9 1790.3,2562.0 1793.3,2564.2 C1796.4,2566.5 1798.9,2566.8 1802.4,2565.8 C1806.0,2564.7 1810.5,2559.9 1814.5,2558.2 C1818.6,2556.4 1822.1,2555.6 1826.7,2555.2 C1831.2,2554.7 1837.3,2556.5 1841.8,2555.8 C1846.4,2555.0 1849.9,2552.0 1853.9,2550.6 C1858.0,2549.2 1862.0,2547.3 1866.1,2547.6 C1870.1,2547.8 1874.1,2550.1 1878.2,2552.1 C1882.2,2554.1 1886.3,2557.7 1890.3,2559.7 C1894.3,2561.7 1898.4,2562.5 1902.4,2564.2 C1906.5,2566.0 1910.5,2567.0 1914.5,2570.3 C1918.6,2573.6 1923.1,2579.9 1926.7,2583.9 C1930.2,2588.0 1932.7,2592.5 1935.8,2594.5 C1938.8,2596.6 1941.8,2597.3 1944.8,2596.1 C1947.9,2594.8 1950.7,2590.8 1953.9,2587.0 C1957.2,2583.2 1961.0,2576.4 1964.5,2573.3 C1968.1,2570.3 1971.6,2568.3 1975.2,2568.8 C1978.7,2569.3 1982.2,2573.3 1985.8,2576.4 C1989.3,2579.4 1992.8,2584.7 1996.4,2587.0 C1999.9,2589.2 2003.4,2590.5 2007.0,2590.0 C2010.5,2589.5 2014.3,2587.0 2017.6,2583.9 C2020.9,2580.9 2023.8,2573.8 2026.7,2571.8 C2029.5,2569.8 2033.3,2571.8 2034.7,2571.8" fill="none" stroke="#000" stroke-width="8" stroke-linejoin="round" stroke-linecap="butt"/>
<path d="M154.7,2246.7 C156.1,2246.7 159.5,2245.9 162.7,2246.7 C166.0,2247.4 170.3,2249.1 174.2,2251.2 C178.2,2253.3 182.6,2257.5 186.4,2259.4 C190.2,2261.3 193.2,2262.8 197.0,2262.4 C200.8,2262.1 204.8,2258.6 209.1,2257.3 C213.4,2255.9 218.4,2254.0 222.7,2254.2 C227.0,2254.5 230.8,2256.8 234.8,2258.8 C238.9,2260.8 243.2,2264.8 247.0,2266.4 C250.8,2267.9 253.8,2268.4 257.6,2267.9 C261.4,2267.4 265.9,2264.7 269.7,2263.3 C273.5,2261.9 276.5,2259.4 280.3,2259.4 C284.1,2259.4 288.4,2261.7 292.4,2263.3 C296.5,2265.0 301.0,2268.9 304.5,2269.4 C308.1,2269.9 310.4,2268.6 313.6,2266.4 C316.9,2264.1 320.7,2259.0 324.2,2255.8 C327.8,2252.5 331.6,2248.4 334.8,2246.7 C338.1,2244.9 340.4,2243.6 343.9,2245.2 C347.5,2246.7 352.0,2252.7 356.1,2255.8 C360.1,2258.8 364.1,2263.1 368.2,2263.3 C372.2,2263.6 376.3,2259.5 380.3,2257.3 C384.3,2255.0 388.4,2251.0 392.4,2249.7 C396.5,2248.4 400.5,2248.4 404.5,2249.7 C408.6,2251.0 412.6,2254.7 416.7,2257.3 C420.7,2259.8 424.2,2263.0 428.8,2264.8 C433.3,2266.7 438.9,2267.9 443.9,2268.5 C449.0,2269.1 455.1,2269.3 459.1,2268.5 C463.1,2267.6 465.2,2266.5 468.2,2263.3 C471.2,2260.2 473.7,2254.2 477.3,2249.7 C480.8,2245.2 485.9,2239.0 489.4,2236.1 C492.9,2233.1 495.5,2231.9 498.5,2232.1 C501.5,2232.4 504.0,2234.1 507.6,2237.6 C511.1,2241.0 515.7,2248.7 519.7,2252.7 C523.7,2256.8 526.8,2260.3 531.8,2261.8 C536.9,2263.3 542.9,2261.9 550.0,2261.8 C557.1,2261.7 568.2,2262.5 574.2,2261.2 C580.3,2259.9 582.3,2256.6 586.4,2254.2 C590.4,2251.9 594.4,2248.8 598.5,2247.3 C602.5,2245.8 606.6,2244.7 610.6,2245.2 C614.6,2245.6 618.7,2247.7 622.7,2249.7 C626.8,2251.7 632.0,2255.7 634.8,2257.3 C637.7,2258.8 637.1,2258.0 640.0,2259.1 C642.9,2260.2 648.1,2262.6 652.1,2263.6 C656.2,2264.6 659.7,2266.2 664.2,2265.2 C668.8,2264.1 674.3,2260.6 679.4,2257.6 C684.4,2254.5 690.0,2249.1 694.5,2247.0 C699.1,2244.8 702.6,2244.1 706.7,2244.8 C710.7,2245.6 714.7,2247.9 718.8,2251.5 C722.8,2255.2 726.9,2262.1 730.9,2266.7 C734.9,2271.2 739.2,2276.3 743.0,2278.8 C746.8,2281.3 750.4,2282.8 753.6,2281.8 C756.9,2280.8 759.4,2278.3 762.7,2272.7 C766.0,2267.2 769.8,2256.6 773.3,2248.5 C776.9,2240.4 780.4,2230.8 783.9,2224.2 C787.5,2217.7 791.3,2211.9 794.5,2209.1 C797.8,2206.3 800.1,2207.3 803.6,2207.6 C807.2,2207.8 812.0,2211.4 815.8,2210.6 C819.5,2209.8 822.8,2207.3 826.4,2203.0 C829.9,2198.7 833.2,2193.4 837.0,2184.8 C840.8,2176.3 845.6,2163.1 849.1,2151.5 C852.6,2139.9 855.2,2127.3 858.2,2115.2 C861.2,2103.0 864.2,2090.9 867.3,2078.8 C870.3,2066.7 873.6,2053.0 876.4,2042.4 C879.1,2031.8 881.4,2022.0 883.9,2015.2 C886.5,2008.3 889.0,2004.3 891.5,2001.5 C894.0,1998.7 896.3,1997.7 899.1,1998.5 C901.9,1999.2 905.2,2002.8 908.2,2006.1 C911.2,2009.3 914.2,2015.4 917.3,2018.2 C920.3,2021.0 923.3,2023.7 926.4,2022.7 C929.4,2021.7 932.2,2017.9 935.5,2012.1 C938.7,2006.3 942.5,1996.0 946.1,1987.9 C949.6,1979.8 952.9,1969.7 956.7,1963.6 C960.5,1957.6 964.5,1955.6 968.8,1951.5 C973.1,1947.5 978.4,1944.9 982.4,1939.4 C986.5,1933.8 989.7,1926.8 993.0,1918.2 C996.3,1909.6 999.1,1898.5 1002.1,1887.9 C1005.2,1877.3 1008.4,1862.9 1011.2,1854.5 C1014.0,1846.2 1016.3,1841.0 1018.8,1837.9 C1021.3,1834.7 1023.8,1834.7 1026.4,1835.8 C1028.9,1836.8 1031.2,1838.8 1033.9,1843.9 C1036.7,1849.1 1040.0,1859.3 1043.0,1866.7 C1046.1,1874.0 1048.6,1882.1 1052.1,1887.9 C1055.7,1893.7 1060.2,1897.7 1064.2,1901.5 C1068.3,1905.3 1072.6,1905.8 1076.4,1910.6 C1080.2,1915.4 1083.4,1922.0 1087.0,1930.3 C1090.5,1938.6 1094.3,1949.5 1097.6,1960.6 C1100.9,1971.7 1103.6,1984.8 1106.7,1997.0 C1109.7,2009.1 1112.7,2022.7 1115.8,2033.3 C1118.8,2043.9 1121.8,2052.0 1124.8,2060.6 C1127.9,2069.2 1131.0,2076.8 1133.9,2084.8 C1136.9,2092.9 1138.5,2100.0 1142.4,2109.1 C1146.4,2118.2 1152.0,2130.3 1157.6,2139.4 C1163.1,2148.5 1170.2,2155.6 1175.8,2163.6 C1181.3,2171.7 1186.4,2179.8 1190.9,2187.9 C1195.5,2196.0 1199.2,2206.1 1203.0,2212.1 C1206.8,2218.2 1210.1,2222.2 1213.6,2224.2 C1217.2,2226.3 1220.5,2226.3 1224.2,2224.2 C1228.0,2222.2 1232.6,2215.7 1236.4,2212.1 C1240.2,2208.6 1243.4,2204.8 1247.0,2203.0 C1250.5,2201.3 1253.8,2200.5 1257.6,2201.5 C1261.4,2202.5 1265.7,2205.3 1269.7,2209.1 C1273.7,2212.9 1277.8,2218.2 1281.8,2224.2 C1285.9,2230.3 1289.9,2239.4 1293.9,2245.5 C1298.0,2251.5 1302.3,2257.6 1306.1,2260.6 C1309.8,2263.6 1313.1,2264.1 1316.7,2263.6 C1320.2,2263.1 1323.7,2260.4 1327.3,2257.6 C1330.8,2254.8 1334.6,2249.0 1337.9,2247.0 C1341.2,2244.9 1343.7,2244.4 1347.0,2245.5 C1350.3,2246.5 1353.8,2249.5 1357.6,2253.0 C1361.4,2256.6 1365.7,2263.1 1369.7,2266.7 C1373.7,2270.2 1378.0,2273.0 1381.8,2274.2 C1385.6,2275.5 1388.6,2275.3 1392.4,2274.2 C1396.2,2273.2 1400.3,2271.7 1404.5,2268.2 C1408.8,2264.6 1413.9,2258.1 1418.2,2253.0 C1422.5,2248.0 1426.3,2242.9 1430.3,2237.9 C1434.3,2232.8 1438.6,2226.0 1442.4,2222.7 C1446.2,2219.4 1449.5,2218.2 1453.0,2218.2 C1456.6,2218.2 1459.8,2221.2 1463.6,2222.7 C1467.4,2224.2 1472.0,2226.8 1475.8,2227.3 C1479.5,2227.8 1482.8,2227.0 1486.4,2225.8 C1489.9,2224.5 1493.2,2221.2 1497.0,2219.7 C1500.8,2218.2 1505.3,2216.7 1509.1,2216.7 C1512.9,2216.7 1516.2,2217.4 1519.7,2219.7 C1523.2,2222.0 1526.5,2227.5 1530.3,2230.3 C1534.1,2233.1 1538.4,2236.1 1542.4,2236.4 C1546.5,2236.6 1550.5,2233.3 1554.5,2231.8 C1558.6,2230.3 1562.6,2227.5 1566.7,2227.3 C1570.7,2227.0 1574.7,2228.3 1578.8,2230.3 C1582.8,2232.3 1586.5,2235.4 1590.9,2239.4 C1595.4,2243.4 1600.5,2251.1 1605.5,2254.2 C1610.4,2257.4 1615.6,2257.7 1620.6,2258.2 C1625.7,2258.7 1631.0,2258.4 1635.8,2257.3 C1640.6,2256.1 1645.4,2253.1 1649.4,2251.2 C1653.4,2249.3 1656.5,2246.7 1660.0,2246.1 C1663.5,2245.4 1667.1,2245.4 1670.6,2247.3 C1674.1,2249.1 1677.4,2253.6 1681.2,2257.3 C1685.0,2261.0 1689.3,2266.9 1693.3,2269.4 C1697.4,2271.9 1701.4,2272.9 1705.5,2272.4 C1709.5,2271.9 1713.5,2268.4 1717.6,2266.4 C1721.6,2264.3 1724.6,2261.6 1729.7,2260.3 C1734.7,2259.0 1742.8,2260.1 1747.9,2258.8 C1752.9,2257.5 1756.0,2255.3 1760.0,2252.7 C1764.0,2250.2 1768.6,2245.7 1772.1,2243.6 C1775.7,2241.6 1777.9,2240.4 1781.2,2240.6 C1784.5,2240.9 1788.3,2242.9 1791.8,2245.2 C1795.4,2247.4 1798.9,2252.4 1802.4,2254.2 C1806.0,2256.1 1809.5,2256.9 1813.0,2256.4 C1816.6,2255.9 1820.1,2252.8 1823.6,2251.2 C1827.2,2249.6 1830.7,2246.7 1834.2,2246.7 C1837.8,2246.7 1841.6,2248.4 1844.8,2251.2 C1848.1,2254.0 1850.7,2259.0 1853.9,2263.3 C1857.2,2267.6 1861.0,2273.4 1864.5,2277.0 C1868.1,2280.5 1871.6,2284.3 1875.2,2284.5 C1878.7,2284.8 1882.2,2281.8 1885.8,2278.5 C1889.3,2275.2 1892.6,2269.4 1896.4,2264.8 C1900.2,2260.3 1904.4,2254.3 1908.5,2251.2 C1912.5,2248.1 1916.6,2246.6 1920.6,2246.1 C1924.6,2245.6 1928.2,2246.6 1932.7,2248.2 C1937.3,2249.8 1942.8,2253.4 1947.9,2255.8 C1952.9,2258.1 1958.0,2260.5 1963.0,2262.4 C1968.1,2264.3 1973.1,2266.6 1978.2,2267.3 C1983.2,2267.9 1988.3,2267.5 1993.3,2266.4 C1998.4,2265.2 2003.9,2262.3 2008.5,2260.3 C2013.0,2258.3 2017.6,2255.5 2020.6,2254.2 C2023.6,2253.0 2024.3,2253.0 2026.7,2252.7 C2029.0,2252.5 2033.3,2252.7 2034.7,2252.7" fill="none" stroke="#ff4343" stroke-width="8" stroke-linejoin="round" stroke-linecap="butt"/>
<path d="M154.7,1981.5 C156.1,1981.5 159.5,1981.3 162.7,1981.5 C166.0,1981.8 170.3,1984.0 174.2,1983.0 C178.2,1982.0 182.3,1978.7 186.4,1975.5 C190.4,1972.2 193.9,1966.0 198.5,1963.3 C203.0,1960.7 208.6,1959.4 213.6,1959.4 C218.7,1959.4 223.7,1961.4 228.8,1963.3 C233.8,1965.3 238.4,1969.2 243.9,1970.9 C249.5,1972.6 256.1,1973.3 262.1,1973.3 C268.2,1973.3 274.7,1972.3 280.3,1970.9 C285.9,1969.5 290.4,1967.1 295.5,1964.8 C300.5,1962.6 306.6,1958.5 310.6,1957.3 C314.6,1956.0 316.2,1956.5 319.7,1957.3 C323.2,1958.0 327.8,1960.6 331.8,1961.8 C335.9,1963.1 339.4,1965.6 343.9,1964.8 C348.5,1964.1 354.5,1959.3 359.1,1957.3 C363.6,1955.3 367.2,1952.7 371.2,1952.7 C375.3,1952.7 379.0,1955.5 383.3,1957.3 C387.6,1959.0 392.9,1962.8 397.0,1963.3 C401.0,1963.8 403.8,1962.6 407.6,1960.3 C411.4,1958.0 415.9,1952.5 419.7,1949.7 C423.5,1946.9 426.8,1943.9 430.3,1943.6 C433.8,1943.4 437.1,1945.9 440.9,1948.2 C444.7,1950.5 449.2,1955.3 453.0,1957.3 C456.8,1959.3 459.8,1960.8 463.6,1960.3 C467.4,1959.8 472.0,1957.5 475.8,1954.2 C479.5,1951.0 482.6,1945.4 486.4,1940.6 C490.2,1935.8 494.4,1929.0 498.5,1925.5 C502.5,1921.9 506.8,1919.4 510.6,1919.4 C514.4,1919.4 517.7,1922.2 521.2,1925.5 C524.7,1928.7 528.3,1934.8 531.8,1939.1 C535.4,1943.4 539.4,1948.7 542.4,1951.2 C545.5,1953.7 547.0,1954.2 550.0,1954.2 C553.0,1954.2 556.6,1954.0 560.6,1951.2 C564.6,1948.4 569.9,1941.9 574.2,1937.6 C578.5,1933.3 581.8,1928.5 586.4,1925.5 C590.9,1922.4 596.5,1919.9 601.5,1919.4 C606.6,1918.9 612.1,1919.9 616.7,1922.4 C621.2,1924.9 624.7,1930.5 628.8,1934.5 C632.8,1938.6 637.5,1943.8 640.9,1946.7 C644.3,1949.5 645.7,1950.7 649.1,1951.5 C652.5,1952.3 656.7,1952.8 661.2,1951.5 C665.8,1950.3 670.8,1946.2 676.4,1943.9 C681.9,1941.7 689.0,1939.6 694.5,1937.9 C700.1,1936.1 705.2,1933.8 709.7,1933.3 C714.2,1932.8 717.8,1932.8 721.8,1934.8 C725.9,1936.9 730.2,1942.2 733.9,1945.5 C737.7,1948.7 740.8,1953.0 744.5,1954.5 C748.3,1956.1 752.9,1957.1 756.7,1954.5 C760.5,1952.0 763.5,1944.9 767.3,1939.4 C771.1,1933.8 775.4,1925.8 779.4,1921.2 C783.4,1916.7 787.5,1913.1 791.5,1912.1 C795.6,1911.1 799.6,1914.1 803.6,1915.2 C807.7,1916.2 811.7,1919.2 815.8,1918.2 C819.8,1917.2 823.8,1914.1 827.9,1909.1 C831.9,1904.0 836.0,1896.5 840.0,1887.9 C844.0,1879.3 848.3,1868.7 852.1,1857.6 C855.9,1846.5 859.4,1834.3 862.7,1821.2 C866.0,1808.1 869.0,1791.9 871.8,1778.8 C874.6,1765.7 876.9,1754.5 879.4,1742.4 C881.9,1730.3 884.7,1716.7 887.0,1706.1 C889.2,1695.5 890.8,1685.6 893.0,1678.8 C895.3,1672.0 898.1,1667.9 900.6,1665.2 C903.1,1662.4 905.4,1661.4 908.2,1662.1 C911.0,1662.9 914.0,1666.7 917.3,1669.7 C920.6,1672.7 924.3,1678.8 927.9,1680.3 C931.4,1681.8 935.2,1681.1 938.5,1678.8 C941.8,1676.5 944.8,1672.2 947.6,1666.7 C950.4,1661.1 952.4,1651.0 955.2,1645.5 C957.9,1639.9 961.5,1635.9 964.2,1633.3 C967.0,1630.8 969.0,1630.1 971.8,1630.3 C974.6,1630.6 977.6,1633.3 980.9,1634.8 C984.2,1636.4 988.2,1639.6 991.5,1639.4 C994.8,1639.1 997.6,1637.4 1000.6,1633.3 C1003.6,1629.3 1006.9,1622.7 1009.7,1615.2 C1012.5,1607.6 1014.7,1597.5 1017.3,1587.9 C1019.8,1578.3 1022.3,1565.4 1024.8,1557.6 C1027.4,1549.7 1029.9,1544.2 1032.4,1540.9 C1034.9,1537.6 1037.2,1537.4 1040.0,1537.9 C1042.8,1538.4 1046.1,1540.7 1049.1,1543.9 C1052.1,1547.2 1054.6,1552.8 1058.2,1557.6 C1061.7,1562.4 1066.3,1567.2 1070.3,1572.7 C1074.3,1578.3 1078.6,1583.8 1082.4,1590.9 C1086.2,1598.0 1089.7,1606.1 1093.0,1615.2 C1096.3,1624.2 1099.3,1634.8 1102.1,1645.5 C1104.9,1656.1 1107.2,1667.7 1109.7,1678.8 C1112.2,1689.9 1114.5,1701.5 1117.3,1712.1 C1120.1,1722.7 1123.6,1733.3 1126.4,1742.4 C1129.1,1751.5 1130.8,1756.1 1133.9,1766.7 C1137.1,1777.3 1141.0,1792.9 1145.5,1806.1 C1149.9,1819.2 1155.6,1833.8 1160.6,1845.5 C1165.7,1857.1 1170.7,1867.2 1175.8,1875.8 C1180.8,1884.3 1185.9,1890.9 1190.9,1897.0 C1196.0,1903.0 1201.3,1909.3 1206.1,1912.1 C1210.9,1914.9 1215.2,1913.9 1219.7,1913.6 C1224.2,1913.4 1229.0,1910.4 1233.3,1910.6 C1237.6,1910.9 1240.9,1912.4 1245.5,1915.2 C1250.0,1917.9 1255.6,1923.2 1260.6,1927.3 C1265.7,1931.3 1270.7,1934.3 1275.8,1939.4 C1280.8,1944.4 1286.4,1953.0 1290.9,1957.6 C1295.5,1962.1 1299.0,1965.7 1303.0,1966.7 C1307.1,1967.7 1310.6,1965.2 1315.2,1963.6 C1319.7,1962.1 1325.8,1957.8 1330.3,1957.6 C1334.8,1957.3 1338.4,1960.6 1342.4,1962.1 C1346.5,1963.6 1350.5,1967.4 1354.5,1966.7 C1358.6,1965.9 1362.6,1961.4 1366.7,1957.6 C1370.7,1953.8 1375.3,1946.5 1378.8,1943.9 C1382.3,1941.4 1384.8,1941.2 1387.9,1942.4 C1390.9,1943.7 1393.9,1947.7 1397.0,1951.5 C1400.0,1955.3 1403.0,1961.4 1406.1,1965.2 C1409.1,1968.9 1411.9,1973.7 1415.2,1974.2 C1418.4,1974.7 1422.2,1971.0 1425.8,1968.2 C1429.3,1965.4 1432.6,1960.1 1436.4,1957.6 C1440.2,1955.1 1444.4,1952.8 1448.5,1953.0 C1452.5,1953.3 1456.8,1957.6 1460.6,1959.1 C1464.4,1960.6 1467.2,1962.6 1471.2,1962.1 C1475.3,1961.6 1480.6,1957.8 1484.8,1956.1 C1489.1,1954.3 1492.9,1952.0 1497.0,1951.5 C1501.0,1951.0 1504.5,1951.8 1509.1,1953.0 C1513.6,1954.3 1519.2,1957.3 1524.2,1959.1 C1529.3,1960.9 1534.3,1963.1 1539.4,1963.6 C1544.4,1964.1 1549.5,1963.4 1554.5,1962.1 C1559.6,1960.9 1564.6,1957.8 1569.7,1956.1 C1574.7,1954.3 1579.4,1951.3 1584.8,1951.5 C1590.3,1951.7 1597.0,1955.5 1602.4,1957.3 C1607.9,1959.1 1612.5,1961.4 1617.6,1962.4 C1622.6,1963.4 1627.7,1964.2 1632.7,1963.3 C1637.8,1962.5 1643.3,1959.3 1647.9,1957.3 C1652.4,1955.3 1656.0,1952.2 1660.0,1951.2 C1664.0,1950.2 1668.1,1950.5 1672.1,1951.2 C1676.2,1952.0 1680.2,1955.5 1684.2,1955.8 C1688.3,1956.0 1692.6,1955.8 1696.4,1952.7 C1700.2,1949.7 1703.4,1942.6 1707.0,1937.6 C1710.5,1932.5 1714.3,1925.5 1717.6,1922.4 C1720.9,1919.4 1723.6,1917.9 1726.7,1919.4 C1729.7,1920.9 1732.7,1926.0 1735.8,1931.5 C1738.8,1937.1 1741.8,1946.7 1744.8,1952.7 C1747.9,1958.8 1750.9,1965.1 1753.9,1967.9 C1757.0,1970.7 1760.0,1970.9 1763.0,1969.4 C1766.1,1967.9 1769.1,1963.6 1772.1,1958.8 C1775.2,1954.0 1777.9,1946.4 1781.2,1940.6 C1784.5,1934.8 1788.3,1928.2 1791.8,1923.9 C1795.4,1919.6 1798.6,1916.7 1802.4,1914.8 C1806.2,1913.0 1810.5,1912.2 1814.5,1912.7 C1818.6,1913.2 1823.1,1914.7 1826.7,1917.9 C1830.2,1921.0 1832.7,1926.7 1835.8,1931.5 C1838.8,1936.3 1841.8,1942.1 1844.8,1946.7 C1847.9,1951.2 1850.7,1956.0 1853.9,1958.8 C1857.2,1961.6 1860.5,1963.8 1864.5,1963.3 C1868.6,1962.8 1873.4,1958.3 1878.2,1955.8 C1883.0,1953.2 1888.3,1949.8 1893.3,1948.2 C1898.4,1946.6 1903.4,1945.6 1908.5,1946.1 C1913.5,1946.6 1918.6,1949.8 1923.6,1951.2 C1928.7,1952.6 1933.7,1954.0 1938.8,1954.2 C1943.8,1954.5 1949.4,1952.2 1953.9,1952.7 C1958.5,1953.2 1962.3,1955.0 1966.1,1957.3 C1969.8,1959.5 1973.1,1964.6 1976.7,1966.4 C1980.2,1968.1 1983.5,1968.9 1987.3,1967.9 C1991.1,1966.9 1995.6,1963.6 1999.4,1960.3 C2003.2,1957.0 2006.5,1950.8 2010.0,1948.2 C2013.5,1945.6 2017.8,1944.5 2020.6,1944.5 C2023.4,1944.5 2024.3,1947.6 2026.7,1948.2 C2029.0,1948.8 2033.3,1948.2 2034.7,1948.2" fill="none" stroke="#0067d2" stroke-width="8" stroke-linejoin="round" stroke-linecap="butt"/>
</g>
<path d="M159.4,1146.6 H2030.9" stroke="#000" stroke-width="8.5" fill="none"/>
<path d="M163.4,1146.6 V1182.6" stroke="#000" stroke-width="8" fill="none"/>
<path d="M256.6,1146.6 V1163.6" stroke="#000" stroke-width="8" fill="none"/>
<path d="M349.8,1146.6 V1182.6" stroke="#000" stroke-width="8" fill="none"/>
<path d="M442.9,1146.6 V1163.6" stroke="#000" stroke-width="8" fill="none"/>
<path d="M536.1,1146.6 V1182.6" stroke="#000" stroke-width="8" fill="none"/>
<path d="M629.3,1146.6 V1163.6" stroke="#000" stroke-width="8" fill="none"/>
<path d="M722.4,1146.6 V1182.6" stroke="#000" stroke-width="8" fill="none"/>
<path d="M815.6,1146.6 V1163.6" stroke="#000" stroke-width="8" fill="none"/>
<path d="M908.8,1146.6 V1182.6" stroke="#000" stroke-width="8" fill="none"/>
<path d="M1002.0,1146.6 V1163.6" stroke="#000" stroke-width="8" fill="none"/>
<path d="M1095.2,1146.6 V1182.6" stroke="#000" stroke-width="8" fill="none"/>
<path d="M1188.3,1146.6 V1163.6" stroke="#000" stroke-width="8" fill="none"/>
<path d="M1281.5,1146.6 V1182.6" stroke="#000" stroke-width="8" fill="none"/>
<path d="M1374.7,1146.6 V1163.6" stroke="#000" stroke-width="8" fill="none"/>
<path d="M1467.9,1146.6 V1182.6" stroke="#000" stroke-width="8" fill="none"/>
<path d="M1561.0,1146.6 V1163.6" stroke="#000" stroke-width="8" fill="none"/>
<path d="M1654.2,1146.6 V1182.6" stroke="#000" stroke-width="8" fill="none"/>
<path d="M1747.4,1146.6 V1163.6" stroke="#000" stroke-width="8" fill="none"/>
<path d="M1840.5,1146.6 V1182.6" stroke="#000" stroke-width="8" fill="none"/>
<path d="M1933.7,1146.6 V1163.6" stroke="#000" stroke-width="8" fill="none"/>
<path d="M2026.9,1146.6 V1182.6" stroke="#000" stroke-width="8" fill="none"/>
<text transform="translate(161.9,1274.2) scale(1,1.05)" text-anchor="middle" font-size="86.5" class="sans">350</text>
<text transform="translate(348.2,1274.2) scale(1,1.05)" text-anchor="middle" font-size="86.5" class="sans">300</text>
<text transform="translate(534.6,1274.2) scale(1,1.05)" text-anchor="middle" font-size="86.5" class="sans">250</text>
<text transform="translate(720.9,1274.2) scale(1,1.05)" text-anchor="middle" font-size="86.5" class="sans">200</text>
<text transform="translate(907.3,1274.2) scale(1,1.05)" text-anchor="middle" font-size="86.5" class="sans">150</text>
<text transform="translate(1093.7,1274.2) scale(1,1.05)" text-anchor="middle" font-size="86.5" class="sans">100</text>
<text transform="translate(1280.0,1274.2) scale(1,1.05)" text-anchor="middle" font-size="86.5" class="sans">50</text>
<text transform="translate(1466.4,1274.2) scale(1,1.05)" text-anchor="middle" font-size="86.5" class="sans">0</text>
<text transform="translate(1654.2,1274.2) scale(1,1.05)" text-anchor="middle" font-size="86.5" class="sans">-50</text>
<text transform="translate(1840.5,1274.2) scale(1,1.05)" text-anchor="middle" font-size="86.5" class="sans">-100</text>
<text transform="translate(2026.9,1274.2) scale(1,1.05)" text-anchor="middle" font-size="86.5" class="sans">-150</text>
<path d="M159.4,2624.4 H2030.9" stroke="#000" stroke-width="8.5" fill="none"/>
<path d="M163.4,2624.4 V2660.4" stroke="#000" stroke-width="8" fill="none"/>
<path d="M256.6,2624.4 V2641.4" stroke="#000" stroke-width="8" fill="none"/>
<path d="M349.8,2624.4 V2660.4" stroke="#000" stroke-width="8" fill="none"/>
<path d="M442.9,2624.4 V2641.4" stroke="#000" stroke-width="8" fill="none"/>
<path d="M536.1,2624.4 V2660.4" stroke="#000" stroke-width="8" fill="none"/>
<path d="M629.3,2624.4 V2641.4" stroke="#000" stroke-width="8" fill="none"/>
<path d="M722.4,2624.4 V2660.4" stroke="#000" stroke-width="8" fill="none"/>
<path d="M815.6,2624.4 V2641.4" stroke="#000" stroke-width="8" fill="none"/>
<path d="M908.8,2624.4 V2660.4" stroke="#000" stroke-width="8" fill="none"/>
<path d="M1002.0,2624.4 V2641.4" stroke="#000" stroke-width="8" fill="none"/>
<path d="M1095.2,2624.4 V2660.4" stroke="#000" stroke-width="8" fill="none"/>
<path d="M1188.3,2624.4 V2641.4" stroke="#000" stroke-width="8" fill="none"/>
<path d="M1281.5,2624.4 V2660.4" stroke="#000" stroke-width="8" fill="none"/>
<path d="M1374.7,2624.4 V2641.4" stroke="#000" stroke-width="8" fill="none"/>
<path d="M1467.9,2624.4 V2660.4" stroke="#000" stroke-width="8" fill="none"/>
<path d="M1561.0,2624.4 V2641.4" stroke="#000" stroke-width="8" fill="none"/>
<path d="M1654.2,2624.4 V2660.4" stroke="#000" stroke-width="8" fill="none"/>
<path d="M1747.4,2624.4 V2641.4" stroke="#000" stroke-width="8" fill="none"/>
<path d="M1840.5,2624.4 V2660.4" stroke="#000" stroke-width="8" fill="none"/>
<path d="M1933.7,2624.4 V2641.4" stroke="#000" stroke-width="8" fill="none"/>
<path d="M2026.9,2624.4 V2660.4" stroke="#000" stroke-width="8" fill="none"/>
<text transform="translate(161.9,2752.0) scale(1,1.05)" text-anchor="middle" font-size="86.5" class="sans">350</text>
<text transform="translate(348.2,2752.0) scale(1,1.05)" text-anchor="middle" font-size="86.5" class="sans">300</text>
<text transform="translate(534.6,2752.0) scale(1,1.05)" text-anchor="middle" font-size="86.5" class="sans">250</text>
<text transform="translate(720.9,2752.0) scale(1,1.05)" text-anchor="middle" font-size="86.5" class="sans">200</text>
<text transform="translate(907.3,2752.0) scale(1,1.05)" text-anchor="middle" font-size="86.5" class="sans">150</text>
<text transform="translate(1093.7,2752.0) scale(1,1.05)" text-anchor="middle" font-size="86.5" class="sans">100</text>
<text transform="translate(1280.0,2752.0) scale(1,1.05)" text-anchor="middle" font-size="86.5" class="sans">50</text>
<text transform="translate(1466.4,2752.0) scale(1,1.05)" text-anchor="middle" font-size="86.5" class="sans">0</text>
<text transform="translate(1654.2,2752.0) scale(1,1.05)" text-anchor="middle" font-size="86.5" class="sans">-50</text>
<text transform="translate(1840.5,2752.0) scale(1,1.05)" text-anchor="middle" font-size="86.5" class="sans">-100</text>
<text transform="translate(2026.9,2752.0) scale(1,1.05)" text-anchor="middle" font-size="86.5" class="sans">-150</text>
<!-- PVDF structure -->
<g stroke="#000" fill="none" stroke-width="6.2" stroke-linejoin="miter">
<path d="M287,38.5 L269.5,51.5 V385 L287,398.5"/>
<path d="M484.5,38.5 L501.8,51.5 V385 L484.5,398.5"/>
<path d="M251,252.7 L337.3,203.6 L429.3,257 L518.2,204.5"/>
<path d="M337.3,139 V280" stroke-width="7.2"/>
<path d="M429.5,188.2 V318" stroke-width="6.6"/>
</g>
<!-- PAN structure -->
<g stroke="#000" fill="none" stroke-width="6.2" stroke-linejoin="miter">
<path d="M1731.4,38.5 L1715,50.5 V386 L1731.4,399.8"/>
<path d="M1924,38.5 L1940.5,50.5 V386 L1924,399.8"/>
<path d="M1669.6,270 L1762.3,323.6 L1860.4,268.3 L1956,321.5"/>
<path d="M1860.7,117.5 V270" stroke-width="7.2"/>
<path d="M1841.2,117.5 V184.5" stroke-width="8"/>
<path d="M1882.4,117.5 V184.5" stroke-width="8"/>
</g>
<!-- legend -->
<g fill="none" stroke-width="8.3" stroke-linecap="round">
<path d="M1308,1580 H1481.5" stroke="#0067d2"/>
<path d="M1308,1675.5 H1481.5" stroke="#ff4343"/>
<path d="M1308,1772 H1481.5" stroke="#000"/>
</g>

<text transform="translate(30.6,141.0) scale(1.049,1)" font-size="130.6" class="dj">a</text>
<text transform="translate(112.2,147.8) scale(1.132,1)" font-size="140.2" class="dj">)</text>
<text transform="translate(31.8,1603.5) scale(0.986,1)" font-size="133.0" class="dj">b</text>
<text transform="translate(113.0,1611.1) scale(1.156,1)" font-size="143.0" class="dj">)</text>
<text transform="translate(656.3,455.6) scale(1.006,1)" font-size="125.7" class="sans" stroke="#000" stroke-width="1.8" stroke-linejoin="miter">*</text>
<text transform="translate(656.3,753.1) scale(1.074,1)" font-size="117.7" class="sans" stroke="#000" stroke-width="1.8" stroke-linejoin="miter">*</text>
<text transform="translate(656.6,1000.3) scale(1.083,1)" font-size="116.0" class="sans" stroke="#000" stroke-width="1.8" stroke-linejoin="miter">*</text>
<text transform="translate(959.1,85.4) scale(1.078,1)" font-size="86.5" class="serif" font-weight="bold" font-style="italic" fill="#ff0000">γ</text>
<text transform="translate(1053.0,201.0) scale(1.042,1)" font-size="84.0" class="serif" font-weight="bold" fill="#ff0000">ε</text>
<text transform="translate(1254.4,257.5) scale(1.052,1)" font-size="79.9" class="serif" font-weight="bold" fill="#ff0000">δ</text>
<text transform="translate(1318.9,230.8) scale(0.881,1)" font-size="84.0" class="serif" font-weight="bold" font-style="italic" fill="#ff0000">α</text>
<text transform="translate(1375.4,260.5) scale(1.058,1)" font-size="79.8" class="serif" font-weight="bold" fill="#ff0000">β</text>
<text transform="translate(278.8,210.5) scale(0.986,1)" font-size="87.0" class="serif" font-weight="bold" fill="#ff0000">δ</text>
<text transform="translate(440.1,222.7) scale(1.004,1)" font-size="87.1" class="serif" font-weight="bold" fill="#ff0000">ε</text>
<text transform="translate(1780.3,197.6) scale(1.062,1)" font-size="94.6" class="serif" font-weight="bold" font-style="italic" fill="#ff0000">γ</text>
<text transform="translate(1735.3,375.2) scale(0.873,1)" font-size="90.2" class="serif" font-weight="bold" font-style="italic" fill="#ff0000">α</text>
<text transform="translate(1849.3,349.6) scale(0.975,1)" font-size="87.3" class="serif" font-weight="bold" fill="#ff0000">β</text>
<text transform="translate(301.6,117.0) scale(0.909,1)" font-size="102.2" class="sans">H</text>
<text transform="translate(409.1,167.0) scale(0.857,1)" font-size="100.0" class="sans">F</text>
<text transform="translate(301.6,370.0) scale(0.915,1)" font-size="101.4" class="sans">H</text>
<text transform="translate(409.1,418.0) scale(0.896,1)" font-size="95.7" class="sans">F</text>
<text transform="translate(1831.3,105.2) scale(0.933,1)" font-size="96.7" class="sans">N</text>
<text transform="translate(868.4,1407.0) scale(1.100,1)" font-size="103.5" class="serif">δ</text>
<text transform="translate(928.3,1405.6) scale(1.036,1)" font-size="43.7" class="sans">13</text>
<text transform="translate(974.4,1435.9) scale(0.922,1)" font-size="77.5" class="sans">C</text>
<text transform="translate(1046.6,1406.4) scale(1.028,1)" font-size="103.0" class="sans">(ppm)</text>
<text transform="translate(846.9,2875.0) scale(1.100,1)" font-size="103.5" class="serif">δ</text>
<text transform="translate(906.8,2873.6) scale(1.036,1)" font-size="43.7" class="sans">13</text>
<text transform="translate(952.9,2903.9) scale(0.922,1)" font-size="77.5" class="sans">C</text>
<text transform="translate(1025.1,2874.4) scale(1.028,1)" font-size="103.0" class="sans">(ppm)</text>
<text transform="translate(1503.0,1605.2) scale(0.989,1)" font-size="79.9" class="sans">PAN 3:1 PVDF</text>
<text transform="translate(1503.0,1701.2) scale(0.989,1)" font-size="79.9" class="sans">PAN 4:1 PVDF</text>
<text transform="translate(1503.0,1796.7) scale(0.989,1)" font-size="79.9" class="sans">PAN</text>
</svg></body></html>
